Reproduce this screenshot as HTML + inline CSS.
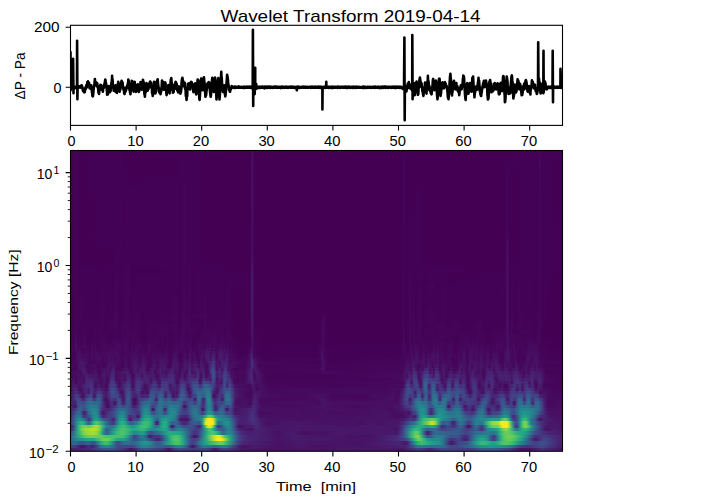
<!DOCTYPE html><html><head><meta charset="utf-8"><style>html,body{margin:0;padding:0;background:#fff;width:702px;height:501px;overflow:hidden}svg{display:block}#spec div{position:absolute;left:0;width:500px}text{font-family:"Liberation Sans",sans-serif;fill:#000}</style></head><body>
<div style="position:absolute;left:70px;top:150px;width:492px;height:301px;overflow:hidden"><div id="spec" style="position:absolute;left:-4px;top:-4px;width:500px;height:309px;filter:blur(0.5px)"><div style="top:302px;height:7px;background:linear-gradient(90deg,#481d6f 4px,#482374 15px,#472a7a 24px,#3a538b 38px,#3b518b 47px,#46307e 59px,#471365 65px,#481f70 68px,#3e4c8a 75px,#3b528b 81px,#46327e 98px,#471164 103px,#482878 106px,#414487 110px,#3d4d8a 115px,#453781 127px,#3f4788 138px,#443983 143px,#481a6c 148px,#481b6d 150px,#433d84 156px,#423f85 161px,#481668 176px,#471164 214px,#481467 266px,#481668 337px,#423f85 352px,#453581 358px,#482475 364px,#404588 375px,#423f85 391px,#453781 403px,#38598c 416px,#38588c 430px,#424186 442px,#471164 455px,#471164 464px,#472d7b 476px,#471365 495px)"></div><div style="top:299px;height:3px;background:linear-gradient(90deg,#443a83 4px,#443b84 9px,#481d6f 14px,#471063 16px,#472a7a 22px,#482173 27px,#472e7c 29px,#2c738e 35px,#25848e 38px,#24868e 42px,#2c738e 46px,#3e4c8a 51px,#404588 54px,#3e4989 60px,#414287 66px,#38588c 70px,#277f8e 76px,#25858e 80px,#2b748e 85px,#375b8d 91px,#375b8d 100px,#38598c 103px,#2c718e 107px,#25858e 111px,#25848e 115px,#2b758e 118px,#3e4a89 122px,#481668 126px,#481467 127px,#32648e 134px,#2a778e 138px,#2a768e 143px,#306a8e 149px,#27808e 157px,#2a768e 161px,#48186a 174px,#471063 177px,#481a6c 188px,#471063 213px,#481668 234px,#471164 259px,#481467 278px,#481467 300px,#482173 340px,#443983 344px,#2c728e 351px,#287d8e 355px,#2f6c8e 365px,#2c718e 374px,#33638d 379px,#404588 385px,#404688 390px,#33628d 403px,#21918c 414px,#1f998a 422px,#218f8d 439px,#297a8e 445px,#424186 454px,#46327e 460px,#453882 468px,#3f4889 476px,#46307e 485px,#481b6d 495px)"></div><div style="top:295px;height:4px;background:linear-gradient(90deg,#39568c 4px,#32658e 8px,#34618d 11px,#3c4f8a 15px,#3a548c 18px,#34608d 22px,#3d4d8a 27px,#39568c 29px,#22a785 35px,#3bbb75 38px,#3dbc74 41px,#25ac82 44px,#24868e 47px,#3f4889 51px,#414487 52px,#2f6b8e 57px,#2d718e 60px,#32648e 67px,#2d708e 71px,#20928c 77px,#1f968b 80px,#228d8d 83px,#365c8d 90px,#38598c 93px,#306a8e 96px,#25ab82 104px,#4ac16d 109px,#46c06f 113px,#2ab07f 116px,#26828e 120px,#3e4c8a 124px,#433e85 126px,#424086 128px,#32658e 132px,#1e9c89 138px,#2db27d 143px,#6ece58 154px,#65cb5e 157px,#2fb47c 161px,#3a538b 170px,#46327e 174px,#482374 179px,#471164 212px,#48186a 233px,#471365 259px,#481467 276px,#471164 292px,#482576 334px,#481467 340px,#482576 342px,#39558c 345px,#1f958b 349px,#2eb37c 352px,#3fbc73 355px,#31b57b 359px,#1f9e89 366px,#20928c 373px,#297a8e 377px,#482071 384px,#48186a 385px,#481f70 387px,#414487 392px,#3c4f8a 400px,#30698e 404px,#21a685 411px,#35b779 415px,#37b878 419px,#1f9f88 427px,#21a685 430px,#4ac16d 436px,#56c667 441px,#3dbc74 446px,#238a8d 454px,#39558c 463px,#414287 468px,#3f4889 473px,#3b518b 478px,#482576 492px,#482071 495px)"></div><div style="top:292px;height:3px;background:linear-gradient(90deg,#375b8d 4px,#23888e 11px,#22a785 22px,#23a983 28px,#6ccd5a 37px,#6ece58 42px,#3fbc73 47px,#21a685 51px,#1f9e89 58px,#228d8d 61px,#3b528b 67px,#3f4889 69px,#39568c 72px,#2c718e 76px,#2c718e 79px,#482374 91px,#482374 93px,#424186 96px,#20a386 103px,#3fbc73 106px,#56c667 109px,#52c569 112px,#35b779 115px,#228d8d 119px,#375a8c 123px,#424086 126px,#443b84 129px,#3c4f8a 132px,#2eb37c 141px,#eae51a 150px,#fde725 152px,#fde725 155px,#dde318 157px,#24aa83 164px,#355f8d 170px,#443b84 174px,#482878 179px,#481467 212px,#481a6c 232px,#481769 261px,#471365 276px,#481467 307px,#472c7a 331px,#414287 339px,#375b8d 342px,#20928c 346px,#3aba76 349px,#67cc5c 352px,#5cc863 355px,#1f958b 362px,#228c8d 366px,#238a8d 373px,#2b758e 377px,#443a83 383px,#472e7c 385px,#414287 392px,#472f7d 396px,#481b6d 399px,#482374 401px,#39558c 405px,#228d8d 410px,#21a585 414px,#22a884 417px,#1e9b8a 420px,#29798e 423px,#3f4889 426px,#433d84 427px,#443b84 428px,#3f4788 429px,#20a386 434px,#48c16e 437px,#67cc5c 441px,#60ca60 446px,#31b57b 452px,#26828e 459px,#482173 468px,#481769 470px,#414287 477px,#414287 481px,#482576 492px,#482173 495px)"></div><div style="top:289px;height:3px;background:linear-gradient(90deg,#38598c 4px,#2cb17e 14px,#5cc863 19px,#75d054 25px,#63cb5f 35px,#44bf70 41px,#48c16e 52px,#3fbc73 57px,#28ae80 60px,#218f8d 63px,#3b518b 67px,#404588 68px,#424086 69px,#3c4f8a 71px,#2d718e 74px,#297a8e 76px,#2c738e 78px,#365d8d 80px,#482475 83px,#481a6c 84px,#463480 88px,#46327e 93px,#3d4e8a 96px,#22a785 103px,#3dbc74 106px,#4cc26c 110px,#37b878 114px,#1fa188 117px,#443a83 125px,#481769 128px,#471063 129px,#482374 131px,#33638d 135px,#24aa83 140px,#9dd93b 146px,#e5e419 150px,#efe51c 153px,#cde11d 155px,#4cc26c 159px,#20a386 164px,#3a538b 171px,#463480 175px,#482374 181px,#481f70 193px,#471164 213px,#481b6d 228px,#481668 243px,#481668 261px,#481668 274px,#471164 286px,#471365 307px,#482878 331px,#414287 336px,#30698e 340px,#48c16e 347px,#7cd250 350px,#7cd250 352px,#5ac864 354px,#27ad81 356px,#32648e 360px,#39568c 361px,#3c508b 362px,#39558c 364px,#2a788e 369px,#277f8e 373px,#2d718e 378px,#3a538b 384px,#3b518b 392px,#482878 399px,#472c7a 401px,#3a548c 405px,#26818e 410px,#20938c 414px,#1f958b 418px,#23888e 421px,#31678e 424px,#443b84 427px,#443983 428px,#414487 429px,#27808e 432px,#2db27d 435px,#5ac864 438px,#73d056 442px,#5ec962 448px,#2ab07f 455px,#228c8d 460px,#433e85 467px,#482979 470px,#443b84 478px,#481f70 495px)"></div><div style="top:285px;height:4px;background:linear-gradient(90deg,#3e4a89 4px,#31688e 7px,#2eb37c 13px,#70cf57 17px,#a0da39 22px,#a5db36 28px,#81d34d 32px,#54c568 34px,#1f978b 37px,#2c728e 39px,#32658e 40px,#34618d 41px,#31668e 42px,#1fa088 47px,#37b878 51px,#50c46a 56px,#3fbc73 60px,#23888e 68px,#228c8d 71px,#1f9e89 75px,#1e9c89 77px,#218e8d 79px,#39558c 83px,#3d4d8a 84px,#3c4f8a 86px,#32658e 90px,#29798e 95px,#20a386 101px,#25ab82 104px,#21a685 113px,#20928c 117px,#433e85 126px,#472e7c 129px,#443b84 132px,#34608d 135px,#20a386 140px,#3fbc73 143px,#50c46a 146px,#40bd72 149px,#22a785 152px,#2c718e 156px,#30698e 157px,#306a8e 158px,#23888e 162px,#23888e 164px,#2d718e 167px,#433d84 172px,#482374 177px,#481d6f 184px,#482173 191px,#471063 212px,#481b6d 226px,#470e61 238px,#471365 250px,#471164 259px,#48186a 272px,#481668 292px,#48186a 326px,#48186a 331px,#46327e 335px,#34618d 339px,#34b679 346px,#5ec962 349px,#63cb5f 351px,#4ac16d 353px,#23a983 355px,#46337f 360px,#481f70 361px,#481b6d 362px,#355f8d 367px,#2f6c8e 370px,#365c8d 385px,#365c8d 392px,#424186 400px,#3c4f8a 404px,#2e6d8e 410px,#2c738e 417px,#27808e 422px,#2c738e 427px,#29798e 429px,#1f968b 432px,#44bf70 436px,#67cc5c 439px,#67cc5c 443px,#27ad81 452px,#21a585 458px,#228d8d 462px,#39558c 468px,#424086 472px,#482475 481px,#481b6d 495px)"></div><div style="top:282px;height:3px;background:linear-gradient(90deg,#472e7c 4px,#463480 6px,#414287 7px,#25ab82 12px,#65cb5e 15px,#9dd93b 19px,#bddf26 28px,#9dd93b 32px,#6ece58 34px,#2fb47c 36px,#2c738e 39px,#33628d 40px,#375a8c 41px,#31678e 43px,#22a884 50px,#42be71 54px,#4cc26c 58px,#22a785 67px,#25ac82 71px,#38b977 76px,#2db27d 79px,#238a8d 85px,#24878e 89px,#22a884 98px,#22a785 100px,#1f9a8a 102px,#2d708e 105px,#32658e 106px,#33628d 107px,#26818e 112px,#27808e 115px,#443b84 129px,#443983 132px,#404588 134px,#34608d 136px,#22a785 140px,#40bd72 142px,#50c46a 144px,#3bbb75 146px,#1fa287 148px,#2c728e 151px,#34608d 153px,#38588c 156px,#31678e 159px,#277e8e 162px,#287d8e 164px,#33638d 167px,#46327e 171px,#481d6f 174px,#471164 185px,#482374 190px,#481467 209px,#48186a 230px,#481467 241px,#481769 262px,#481769 325px,#471164 331px,#472c7a 335px,#38598c 339px,#1f9e89 345px,#2fb47c 348px,#3aba76 351px,#27ad81 354px,#23898e 357px,#33638d 360px,#365d8d 362px,#2e6f8e 367px,#2f6b8e 370px,#414287 376px,#3f4889 380px,#375a8c 393px,#3f4788 398px,#453882 402px,#414487 405px,#365d8d 409px,#375b8d 411px,#463480 415px,#46327e 416px,#443b84 417px,#287d8e 421px,#20938c 424px,#1fa287 431px,#4cc26c 435px,#86d549 438px,#8ed645 441px,#58c765 444px,#26828e 449px,#29798e 450px,#297a8e 451px,#1f968b 454px,#2cb17e 457px,#32b67a 459px,#23a983 462px,#33628d 469px,#481769 479px,#471365 482px,#481c6e 488px,#481467 495px)"></div><div style="top:279px;height:3px;background:linear-gradient(90deg,#482677 4px,#482475 6px,#453581 7px,#1f9a8a 11px,#38b977 13px,#69cd5b 16px,#73d056 19px,#63cb5f 23px,#a0da39 28px,#a5db36 31px,#7ad151 34px,#2cb17e 37px,#24878e 40px,#2a768e 43px,#2b748e 46px,#277f8e 48px,#2ab07f 53px,#3dbc74 56px,#37b878 59px,#1f998a 65px,#1f988b 68px,#40bd72 76px,#42be71 80px,#25ac82 84px,#25848e 88px,#2d718e 90px,#2e6f8e 91px,#2b758e 92px,#1f9e89 95px,#26ad81 97px,#28ae80 99px,#1fa088 101px,#218e8d 102px,#39558c 104px,#46307e 105px,#471365 106px,#482071 107px,#3b518b 109px,#31688e 111px,#30698e 113px,#3d4e8a 118px,#3c508b 126px,#443a83 130px,#481f70 133px,#482374 134px,#443a83 135px,#29798e 137px,#38b977 139px,#73d056 140px,#aadc32 141px,#d2e21b 142px,#e7e419 143px,#eae51a 144px,#d8e219 145px,#b5de2b 146px,#7cd250 147px,#3dbc74 148px,#3b528b 151px,#453781 152px,#463480 153px,#297b8e 159px,#23888e 161px,#24878e 163px,#2e6f8e 166px,#482475 171px,#470e61 173px,#481b6d 181px,#481c6e 186px,#482878 190px,#471365 202px,#481769 231px,#481467 290px,#481769 300px,#481668 315px,#481668 331px,#472e7c 336px,#34618d 341px,#1f948c 347px,#26ad81 352px,#27ad81 355px,#1e9d89 360px,#23a983 366px,#1fa088 369px,#228b8d 371px,#472a7a 376px,#482979 377px,#3e4989 381px,#3e4989 383px,#472f7d 387px,#453781 389px,#365c8d 393px,#355f8d 395px,#3e4c8a 398px,#481467 402px,#471164 403px,#365d8d 408px,#30698e 410px,#33628d 412px,#433d84 415px,#453882 416px,#414487 417px,#1e9d89 421px,#38b977 423px,#65cb5e 426px,#73d056 432px,#a5db36 434px,#ece51b 436px,#fde725 437px,#fde725 441px,#c0df25 443px,#54c568 445px,#3d4d8a 449px,#463480 450px,#443983 451px,#20938c 454px,#3fbc73 456px,#70cf57 458px,#7cd250 460px,#5cc863 462px,#26818e 467px,#38598c 471px,#481b6d 479px,#481467 482px,#48186a 491px,#471365 495px)"></div><div style="top:275px;height:4px;background:linear-gradient(90deg,#46327e 4px,#424186 6px,#355f8d 8px,#1f9f88 12px,#29af7f 14px,#2fb47c 16px,#24aa83 18px,#218f8d 20px,#31688e 22px,#34608d 23px,#2f6b8e 24px,#27ad81 27px,#48c16e 29px,#50c46a 31px,#31b57b 34px,#2c728e 40px,#443b84 46px,#453581 47px,#433d84 48px,#31668e 50px,#218f8d 52px,#22a785 54px,#29af7f 56px,#25ab82 58px,#1f9a8a 60px,#32648e 64px,#355f8d 66px,#277f8e 71px,#2ab07f 76px,#3dbc74 79px,#35b779 83px,#24aa83 85px,#228c8d 87px,#2c738e 88px,#472d7b 90px,#471365 91px,#46307e 92px,#297a8e 94px,#20928c 95px,#1fa188 96px,#27ad81 98px,#25ab82 100px,#1f998a 102px,#31668e 105px,#365d8d 106px,#31668e 110px,#375a8c 112px,#472c7a 116px,#482475 119px,#463480 122px,#39558c 126px,#375a8c 129px,#3a538b 133px,#375b8d 134px,#2f6c8e 135px,#24868e 136px,#addc30 139px,#f8e621 140px,#fde725 147px,#c8e020 148px,#218e8d 151px,#2a778e 152px,#2e6f8e 153px,#2b758e 155px,#218f8d 159px,#21908d 162px,#29798e 165px,#453882 170px,#481f70 173px,#482071 181px,#472f7d 188px,#471063 200px,#471063 205px,#481668 222px,#471164 270px,#471365 290px,#470e61 295px,#481769 306px,#471063 313px,#481668 322px,#481769 332px,#482878 337px,#355e8d 345px,#2e6d8e 348px,#2db27d 355px,#7cd250 362px,#c0df25 365px,#c5e021 367px,#9dd93b 369px,#52c569 371px,#2c718e 375px,#33628d 376px,#375a8c 377px,#33638d 381px,#375b8d 383px,#482071 387px,#481f70 388px,#424086 390px,#34618d 392px,#2d718e 394px,#2d708e 396px,#38598c 399px,#433d84 402px,#424186 404px,#2a778e 409px,#277f8e 412px,#2a778e 415px,#277f8e 417px,#58c765 423px,#8ed645 426px,#a2da37 430px,#a5db36 432px,#dae319 434px,#fde725 435px,#fde725 441px,#e7e419 442px,#73d056 444px,#25848e 447px,#375b8d 449px,#3c508b 450px,#3b518b 451px,#33638d 452px,#27ad81 455px,#63cb5f 457px,#7cd250 459px,#73d056 460px,#5ec962 461px,#23a983 463px,#287d8e 465px,#2d718e 466px,#33628d 469px,#46327e 474px,#48186a 483px,#481467 495px)"></div><div style="top:272px;height:3px;background:linear-gradient(90deg,#472d7b 4px,#3d4e8a 7px,#26818e 11px,#218e8d 13px,#228c8d 15px,#31688e 19px,#433d84 22px,#46337f 23px,#433d84 24px,#24868e 27px,#1f948c 28px,#1fa088 30px,#1f998a 32px,#2b748e 35px,#365c8d 37px,#3d4e8a 40px,#424086 44px,#482475 47px,#482677 48px,#443983 49px,#277e8e 52px,#1f978b 54px,#1f9f88 56px,#1f978b 58px,#228d8d 59px,#31668e 61px,#472c7a 63px,#48186a 64px,#481d6f 65px,#443b84 67px,#404588 69px,#424186 71px,#404688 72px,#3a548c 73px,#20928c 76px,#22a884 78px,#29af7f 81px,#22a884 84px,#228c8d 87px,#34618d 90px,#365c8d 91px,#34618d 92px,#228c8d 95px,#1e9c89 97px,#1fa088 100px,#228d8d 104px,#2b748e 109px,#365d8d 111px,#481f70 114px,#471063 115px,#48186a 118px,#470e61 120px,#471063 121px,#33638d 127px,#2e6f8e 130px,#2a768e 133px,#23888e 135px,#27ad81 137px,#c2df23 140px,#f1e51d 141px,#fde725 143px,#fde725 146px,#dfe318 147px,#23a983 151px,#21908d 153px,#23898e 156px,#24868e 161px,#2b758e 164px,#463480 170px,#481f70 174px,#481f70 180px,#46337f 187px,#481467 196px,#471164 206px,#471063 223px,#471063 243px,#471164 266px,#471063 275px,#471164 292px,#481467 321px,#471365 333px,#481b6d 338px,#453781 344px,#472e7c 348px,#46327e 349px,#414287 350px,#1f968b 354px,#32b67a 357px,#4ac16d 361px,#65cb5e 367px,#4ec36b 370px,#25ab82 373px,#228b8d 376px,#26818e 379px,#2a768e 383px,#365d8d 387px,#34608d 389px,#297b8e 393px,#297a8e 396px,#38598c 402px,#365d8d 405px,#26818e 411px,#228d8d 419px,#1fa287 427px,#1e9d89 432px,#23a983 434px,#5ec962 437px,#73d056 439px,#56c667 441px,#3bbb75 442px,#218f8d 444px,#38588c 446px,#424186 447px,#453781 448px,#423f85 450px,#3e4c8a 451px,#2c738e 453px,#1e9c89 455px,#32b67a 457px,#3dbc74 459px,#29af7f 461px,#2b748e 465px,#38598c 469px,#481a6c 473px,#471164 474px,#482374 478px,#471365 489px,#471365 495px)"></div><div style="top:269px;height:3px;background:linear-gradient(90deg,#482576 4px,#3b528b 8px,#2c728e 11px,#29798e 13px,#2b748e 14px,#38598c 16px,#453581 18px,#46337f 19px,#375b8d 24px,#25858e 27px,#20928c 29px,#228c8d 31px,#2c718e 33px,#472e7c 36px,#482374 37px,#472a7a 39px,#424086 43px,#424086 47px,#3c4f8a 49px,#25858e 53px,#21918c 55px,#21908d 57px,#26828e 59px,#34608d 61px,#463480 63px,#472c7a 64px,#424086 68px,#46307e 70px,#470e61 72px,#481d6f 73px,#297a8e 76px,#228d8d 77px,#1f9e89 79px,#1f9f88 82px,#218e8d 85px,#2b758e 88px,#2d708e 91px,#25838e 96px,#23888e 101px,#218f8d 105px,#23888e 108px,#2a778e 110px,#46327e 114px,#482979 116px,#482677 121px,#443b84 123px,#2e6e8e 127px,#2a788e 130px,#2a768e 135px,#26828e 137px,#3fbc73 141px,#63cb5f 143px,#5ec962 145px,#37b878 147px,#20928c 150px,#25848e 152px,#2b758e 159px,#355e8d 164px,#472d7b 169px,#481c6e 174px,#481d6f 180px,#46337f 187px,#481f70 191px,#471063 194px,#470d60 221px,#471063 233px,#470d60 242px,#470e61 255px,#471063 264px,#471063 282px,#471365 320px,#470d60 328px,#470d60 337px,#481a6c 342px,#482979 346px,#481467 349px,#482475 350px,#2a788e 353px,#1f968b 355px,#1fa187 357px,#1fa088 359px,#2a768e 364px,#2b748e 366px,#24878e 369px,#1e9b8a 372px,#1f948c 376px,#2a778e 387px,#26828e 393px,#2a768e 396px,#39558c 401px,#3c508b 405px,#355e8d 408px,#297a8e 412px,#27808e 415px,#2c728e 419px,#365c8d 423px,#30698e 432px,#287d8e 435px,#1f958b 438px,#1f978b 440px,#238a8d 442px,#306a8e 444px,#443b84 446px,#472a7a 447px,#482878 448px,#424186 450px,#20938c 455px,#1fa287 457px,#21a585 460px,#228d8d 464px,#30698e 469px,#46337f 473px,#472c7a 475px,#482374 479px,#471063 486px,#471164 495px)"></div><div style="top:265px;height:4px;background:linear-gradient(90deg,#481f70 4px,#3c4f8a 9px,#31688e 12px,#31678e 14px,#365c8d 15px,#481b6d 18px,#482374 19px,#365c8d 22px,#25838e 26px,#228d8d 29px,#25838e 31px,#2a788e 32px,#3d4d8a 34px,#46327e 35px,#481c6e 36px,#481467 37px,#46327e 42px,#3e4c8a 48px,#29798e 53px,#26828e 56px,#2a778e 59px,#3d4e8a 63px,#404588 66px,#443a83 70px,#46327e 72px,#453882 73px,#3e4989 74px,#2b748e 76px,#228c8d 78px,#20928c 81px,#24878e 83px,#39568c 86px,#3d4d8a 87px,#3c4f8a 88px,#2c718e 92px,#2a778e 94px,#2e6e8e 96px,#3c508b 98px,#404688 99px,#3c4f8a 100px,#2b748e 102px,#24878e 104px,#228d8d 107px,#27808e 110px,#3b518b 114px,#423f85 117px,#443b84 120px,#3d4e8a 123px,#2c738e 127px,#29798e 130px,#31688e 133px,#404588 136px,#414287 137px,#3c4f8a 138px,#24878e 141px,#1f988b 143px,#20938c 145px,#287c8e 147px,#355f8d 149px,#38598c 150px,#34608d 152px,#2e6e8e 155px,#30698e 157px,#424086 161px,#404688 164px,#443983 166px,#481668 169px,#481f70 181px,#46307e 187px,#481b6d 191px,#460b5e 194px,#470e61 210px,#471063 232px,#470d60 242px,#471164 256px,#470d60 270px,#470e61 282px,#470e61 300px,#481467 317px,#470d60 328px,#471164 337px,#481b6d 340px,#470e61 343px,#443983 347px,#423f85 349px,#3f4889 350px,#277e8e 353px,#21918c 355px,#1f948c 357px,#228b8d 359px,#2d718e 361px,#472e7c 364px,#482475 365px,#472c7a 366px,#2b758e 370px,#23898e 372px,#21918c 375px,#25848e 379px,#2e6f8e 383px,#2b748e 387px,#277e8e 391px,#2a768e 394px,#404688 399px,#46327e 406px,#443a83 408px,#306a8e 412px,#2a768e 415px,#2d718e 417px,#365c8d 419px,#482979 422px,#482475 423px,#414487 427px,#404588 432px,#34608d 435px,#297a8e 438px,#277e8e 440px,#2e6f8e 443px,#3b518b 446px,#3e4c8a 448px,#375b8d 450px,#25858e 454px,#1f948c 457px,#20928c 462px,#2a778e 469px,#472a7a 478px,#471365 482px,#470d60 493px,#471063 495px)"></div><div style="top:262px;height:3px;background:linear-gradient(90deg,#481b6d 4px,#463480 9px,#355f8d 13px,#355e8d 15px,#3e4989 18px,#38588c 20px,#2b758e 23px,#24868e 27px,#25848e 30px,#2b758e 32px,#424086 35px,#46307e 36px,#482173 40px,#482374 43px,#3f4889 49px,#306a8e 53px,#2e6e8e 56px,#34608d 61px,#453581 68px,#453781 71px,#404588 73px,#287c8e 77px,#24878e 79px,#24878e 81px,#297a8e 83px,#31688e 84px,#482475 86px,#470e61 87px,#375a8c 90px,#2d718e 92px,#2a778e 94px,#2b748e 95px,#306a8e 96px,#39568c 97px,#453581 98px,#481b6d 99px,#472e7c 100px,#3a538b 101px,#2e6d8e 102px,#297b8e 103px,#24868e 105px,#25838e 109px,#2c728e 112px,#443a83 117px,#46307e 119px,#433e85 121px,#2e6d8e 126px,#2b748e 129px,#2f6b8e 132px,#3c508b 134px,#482071 136px,#470e61 137px,#482475 138px,#34618d 140px,#2b758e 141px,#26828e 142px,#24868e 143px,#25858e 144px,#277f8e 145px,#2d708e 146px,#482173 149px,#481d6f 150px,#3a538b 153px,#32648e 155px,#34618d 157px,#39568c 158px,#470e61 161px,#481b6d 162px,#46337f 163px,#424086 164px,#424186 165px,#471164 169px,#482173 184px,#472a7a 188px,#471063 194px,#470e61 227px,#470d60 242px,#471164 262px,#470d60 300px,#471063 304px,#471164 318px,#460b5e 325px,#481b6d 337px,#482979 341px,#482979 343px,#31678e 350px,#228c8d 354px,#21908d 357px,#24868e 359px,#2e6f8e 361px,#46337f 364px,#472a7a 365px,#46327e 366px,#2a768e 370px,#25858e 372px,#23898e 376px,#26818e 378px,#2f6b8e 380px,#3e4a89 382px,#414287 383px,#3b528b 385px,#2e6d8e 388px,#2b758e 391px,#2f6b8e 394px,#424086 397px,#482071 399px,#481f70 400px,#472f7d 403px,#482475 405px,#471063 407px,#481a6c 408px,#375a8c 412px,#2f6c8e 415px,#30698e 417px,#3a548c 419px,#481668 422px,#481467 423px,#463480 426px,#453581 428px,#481f70 432px,#482878 433px,#31668e 437px,#2e6f8e 439px,#31678e 442px,#3c4f8a 446px,#3d4e8a 448px,#31678e 451px,#26818e 454px,#238a8d 458px,#25858e 463px,#2d718e 471px,#375b8d 474px,#481f70 479px,#470e61 482px,#470e61 495px)"></div><div style="top:259px;height:3px;background:linear-gradient(90deg,#48186a 4px,#482071 7px,#471063 9px,#481d6f 10px,#3e4a89 12px,#39568c 13px,#375b8d 15px,#39558c 18px,#2a788e 24px,#29798e 30px,#2d718e 32px,#46327e 37px,#470e61 41px,#470d60 42px,#472a7a 46px,#46307e 49px,#38598c 53px,#39558c 55px,#3f4788 57px,#3d4d8a 59px,#39568c 61px,#3b518b 63px,#481b6d 68px,#482071 70px,#3d4e8a 74px,#2d718e 77px,#287c8e 80px,#29798e 82px,#31678e 84px,#424086 86px,#443983 87px,#3e4c8a 89px,#2c718e 93px,#2b758e 95px,#31688e 97px,#3a548c 99px,#38598c 100px,#2a768e 103px,#297b8e 106px,#2d708e 112px,#34618d 114px,#414287 116px,#481668 118px,#471164 119px,#3a538b 123px,#32648e 126px,#32658e 132px,#3a538b 134px,#453581 136px,#472e7c 137px,#453781 138px,#2c738e 141px,#277f8e 142px,#25838e 143px,#26828e 144px,#29798e 145px,#30698e 146px,#463480 148px,#481f70 149px,#481f70 150px,#3e4a89 153px,#375a8c 156px,#38588c 158px,#443b84 161px,#424086 162px,#3b518b 164px,#3d4e8a 165px,#482374 168px,#481467 170px,#471164 184px,#482677 188px,#470e61 195px,#460b5e 223px,#470d60 241px,#471164 255px,#460a5d 290px,#471164 317px,#470d60 324px,#481668 334px,#443983 341px,#443b84 344px,#34608d 348px,#27808e 352px,#23888e 355px,#277f8e 359px,#3b528b 364px,#3b518b 365px,#34618d 367px,#297b8e 370px,#277e8e 377px,#2d718e 379px,#355f8d 380px,#481c6e 382px,#471063 383px,#433e85 385px,#375b8d 388px,#31678e 391px,#375b8d 394px,#453581 397px,#471365 399px,#481668 400px,#472f7d 402px,#46337f 404px,#481c6e 407px,#472c7a 409px,#33628d 416px,#355f8d 418px,#3e4989 420px,#472e7c 422px,#482979 429px,#471063 432px,#481a6c 433px,#3a548c 436px,#34608d 438px,#3f4889 443px,#463480 448px,#443983 449px,#31688e 452px,#2a778e 454px,#2a778e 460px,#2a768e 463px,#355f8d 466px,#365d8d 467px,#2e6d8e 470px,#2f6b8e 472px,#3c508b 475px,#481b6d 479px,#460a5d 482px,#470d60 495px)"></div><div style="top:255px;height:4px;background:linear-gradient(90deg,#481668 4px,#482374 7px,#481f70 9px,#482979 10px,#3e4c8a 12px,#3a538b 13px,#3d4e8a 15px,#404588 17px,#3c4f8a 19px,#30698e 22px,#2e6f8e 25px,#32658e 29px,#306a8e 32px,#355e8d 34px,#482475 38px,#471365 40px,#470e61 42px,#482979 45px,#472c7a 46px,#471063 49px,#3e4a89 52px,#3b518b 53px,#3d4e8a 54px,#472f7d 56px,#481b6d 57px,#481c6e 58px,#3f4788 60px,#3a538b 61px,#38588c 62px,#3a548c 63px,#453882 65px,#481467 67px,#460a5d 68px,#471365 70px,#3b518b 75px,#31688e 79px,#2e6d8e 83px,#404688 89px,#414287 90px,#3e4a89 91px,#306a8e 93px,#2c738e 95px,#32648e 100px,#2e6f8e 104px,#34608d 109px,#31678e 113px,#355f8d 115px,#46327e 118px,#472f7d 119px,#3a548c 123px,#39568c 126px,#433e85 129px,#3f4788 130px,#33628d 132px,#32648e 133px,#365d8d 134px,#472d7b 137px,#472f7d 138px,#414287 139px,#2a768e 141px,#26828e 142px,#24868e 143px,#25838e 144px,#2a788e 145px,#443983 148px,#472e7c 149px,#472e7c 150px,#404588 153px,#423f85 156px,#3a538b 158px,#32648e 160px,#306a8e 163px,#365c8d 165px,#482475 168px,#481668 169px,#470e61 171px,#471365 179px,#46085c 184px,#482475 188px,#481b6d 191px,#460b5e 194px,#470e61 235px,#460b5e 253px,#481467 258px,#470e61 267px,#470e61 304px,#470e61 332px,#482979 337px,#424186 340px,#414287 341px,#482979 344px,#472f7d 345px,#31688e 349px,#287c8e 352px,#287d8e 354px,#2c728e 357px,#2d708e 360px,#3a538b 363px,#3b528b 364px,#32658e 366px,#29798e 368px,#277e8e 370px,#2e6f8e 372px,#33628d 373px,#375b8d 374px,#2a768e 377px,#2a788e 378px,#2b748e 379px,#30698e 380px,#423f85 382px,#453882 383px,#414287 385px,#453781 387px,#443a83 388px,#39568c 390px,#365c8d 391px,#38598c 392px,#424086 394px,#443a83 396px,#472f7d 399px,#424186 403px,#46337f 408px,#46337f 410px,#482878 412px,#472c7a 413px,#39558c 416px,#355e8d 418px,#3a548c 420px,#481668 426px,#481668 427px,#472a7a 430px,#482979 432px,#433e85 434px,#39568c 436px,#38598c 438px,#3c4f8a 439px,#472a7a 441px,#482374 442px,#453882 444px,#433d84 445px,#453882 446px,#471365 448px,#471365 449px,#3c508b 451px,#33638d 452px,#2e6d8e 453px,#2d708e 455px,#31688e 456px,#404688 458px,#3f4788 459px,#30698e 461px,#2e6f8e 462px,#2e6d8e 463px,#33638d 464px,#3e4c8a 465px,#482979 466px,#482475 467px,#375a8c 469px,#32648e 470px,#32658e 472px,#3e4a89 475px,#48186a 479px,#46085c 482px,#470d60 495px)"></div><div style="top:252px;height:3px;background:linear-gradient(90deg,#471164 4px,#3e4a89 12px,#414287 14px,#482071 17px,#482677 18px,#3b518b 21px,#34608d 24px,#39568c 26px,#46327e 28px,#453581 29px,#38598c 31px,#355f8d 33px,#3b518b 35px,#470d60 39px,#460a5d 40px,#482071 43px,#453882 45px,#433d84 46px,#482979 49px,#3e4c8a 52px,#3e4c8a 53px,#463480 55px,#481769 57px,#481769 58px,#404588 60px,#3a548c 61px,#375a8c 62px,#39568c 63px,#3d4d8a 64px,#482173 66px,#471063 67px,#460b5e 70px,#453581 73px,#423f85 75px,#3d4d8a 81px,#34618d 84px,#34618d 86px,#3b518b 88px,#443a83 89px,#481668 90px,#481c6e 91px,#3f4889 92px,#34618d 93px,#306a8e 94px,#2f6b8e 96px,#3b528b 99px,#3c508b 100px,#34608d 103px,#3a548c 105px,#453882 107px,#443a83 109px,#3c508b 112px,#34618d 114px,#33628d 116px,#3c4f8a 120px,#414287 124px,#3e4989 126px,#414287 127px,#470e61 129px,#482979 130px,#3b518b 131px,#31678e 132px,#2e6e8e 133px,#306a8e 134px,#365d8d 135px,#482374 137px,#481a6c 138px,#433e85 139px,#32658e 140px,#287d8e 141px,#24868e 142px,#24878e 143px,#26828e 144px,#2d718e 145px,#463480 147px,#482374 148px,#482173 149px,#424086 153px,#433d84 154px,#472d7b 155px,#471365 156px,#481d6f 157px,#33628d 159px,#2d708e 160px,#2b748e 162px,#306a8e 164px,#433e85 167px,#48186a 169px,#470e61 170px,#471063 177px,#460b5e 185px,#482475 189px,#460a5d 194px,#46085c 218px,#460b5e 250px,#481467 257px,#460a5d 264px,#46085c 300px,#471063 325px,#460a5d 331px,#481a6c 335px,#3f4889 340px,#3e4a89 341px,#433e85 342px,#471063 344px,#482071 345px,#453882 346px,#3f4788 347px,#355e8d 350px,#2d718e 352px,#2c718e 353px,#2f6c8e 354px,#424186 356px,#424086 357px,#32658e 359px,#31678e 360px,#365c8d 361px,#482878 363px,#482979 364px,#33628d 366px,#2c738e 367px,#287c8e 368px,#297b8e 370px,#2c718e 371px,#365d8d 372px,#453581 373px,#481668 374px,#453781 375px,#375b8d 376px,#2e6d8e 377px,#2c738e 378px,#2d708e 380px,#365c8d 383px,#3c508b 385px,#443b84 386px,#481b6d 387px,#48186a 388px,#433e85 389px,#3a548c 390px,#375b8d 391px,#3a538b 392px,#443a83 393px,#481668 394px,#481769 395px,#46327e 396px,#424086 397px,#414487 400px,#433d84 406px,#433d84 409px,#463480 410px,#471063 412px,#471164 413px,#453882 415px,#3b518b 418px,#3b518b 421px,#463480 424px,#481668 426px,#481668 427px,#46307e 430px,#404688 434px,#3b528b 436px,#3d4e8a 438px,#46307e 440px,#481a6c 441px,#471164 442px,#453882 444px,#424186 445px,#414287 446px,#472f7d 448px,#472f7d 449px,#355f8d 452px,#31678e 454px,#32658e 455px,#365c8d 456px,#404588 457px,#481f70 458px,#482071 459px,#3e4989 460px,#34608d 461px,#31688e 462px,#31678e 463px,#34608d 464px,#46307e 466px,#472d7b 467px,#3a538b 469px,#375a8c 470px,#39558c 472px,#481769 479px,#460a5d 483px,#460a5d 495px)"></div><div style="top:248px;height:4px;background:linear-gradient(90deg,#470d60 4px,#443a83 10px,#443983 12px,#460a5d 17px,#471365 18px,#46307e 20px,#3f4788 25px,#424086 26px,#471365 28px,#48186a 29px,#404588 31px,#3c4f8a 33px,#414487 35px,#481f70 38px,#481668 40px,#472d7b 43px,#3e4a89 46px,#404588 52px,#472d7b 54px,#481c6e 55px,#471365 56px,#481c6e 58px,#3c4f8a 61px,#3a548c 62px,#3e4a89 64px,#482173 67px,#481d6f 70px,#46337f 73px,#472f7d 74px,#481a6c 76px,#482878 79px,#481c6e 81px,#482878 82px,#3c4f8a 84px,#375b8d 86px,#3a548c 88px,#433d84 90px,#433d84 91px,#375a8c 93px,#34618d 95px,#39558c 97px,#482071 99px,#481d6f 100px,#3f4788 102px,#3e4c8a 103px,#3f4788 104px,#453882 105px,#470e61 107px,#482071 109px,#481a6c 111px,#482677 112px,#3b528b 114px,#355e8d 116px,#3a538b 119px,#46307e 122px,#482071 123px,#48186a 124px,#443983 126px,#414287 127px,#443b84 129px,#3f4788 130px,#306a8e 132px,#2e6f8e 134px,#38588c 137px,#38588c 138px,#277f8e 141px,#26828e 143px,#2a788e 144px,#33628d 145px,#481668 147px,#460a5d 148px,#443983 154px,#472a7a 156px,#46307e 157px,#34608d 159px,#2f6c8e 160px,#2e6f8e 162px,#32648e 164px,#482071 169px,#481467 172px,#460a5d 180px,#46085c 185px,#481f70 189px,#470d60 196px,#46085c 237px,#471063 257px,#46085c 265px,#46075a 300px,#470d60 309px,#460b5e 312px,#470e61 327px,#460a5d 333px,#482576 337px,#3d4e8a 341px,#3e4a89 342px,#453882 344px,#424086 346px,#433e85 347px,#482475 349px,#472f7d 350px,#365c8d 352px,#34618d 353px,#375a8c 354px,#414287 355px,#481f70 356px,#481d6f 357px,#404588 358px,#365c8d 359px,#34618d 360px,#39568c 361px,#482475 363px,#482576 364px,#355e8d 366px,#2e6e8e 367px,#2b748e 368px,#2e6f8e 370px,#33638d 371px,#453781 373px,#482979 374px,#453882 375px,#3d4e8a 376px,#365c8d 377px,#32648e 380px,#355e8d 384px,#424186 387px,#424186 388px,#38598c 390px,#365c8d 391px,#39568c 392px,#453781 394px,#453581 395px,#3f4889 397px,#3f4788 399px,#482071 404px,#472e7c 406px,#433d84 408px,#453781 410px,#481f70 412px,#482374 414px,#472a7a 417px,#404588 420px,#404688 422px,#482475 426px,#482576 430px,#423f85 436px,#472f7d 439px,#481f70 441px,#481f70 442px,#424086 445px,#414287 447px,#433e85 449px,#3a538b 454px,#3e4a89 456px,#453581 458px,#443983 459px,#39568c 461px,#365c8d 463px,#3d4e8a 465px,#423f85 467px,#404588 470px,#443a83 472px,#482071 474px,#48186a 478px,#460a5d 483px,#46085c 495px)"></div><div style="top:245px;height:3px;background:linear-gradient(90deg,#460a5d 4px,#472f7d 10px,#482475 12px,#471365 14px,#48186a 18px,#482878 20px,#482374 21px,#481769 22px,#48186a 23px,#453882 25px,#453781 26px,#482071 28px,#482071 29px,#443983 32px,#453882 34px,#481769 39px,#481a6c 41px,#3f4788 45px,#3c4f8a 47px,#424186 51px,#471164 55px,#460a5d 56px,#481f70 58px,#3e4989 61px,#3e4c8a 63px,#482576 67px,#472c7a 70px,#453781 72px,#453581 73px,#472d7b 74px,#460b5e 76px,#481a6c 79px,#460a5d 81px,#471063 82px,#433e85 84px,#3c508b 86px,#3d4d8a 89px,#404688 91px,#3b518b 96px,#3e4c8a 97px,#482576 99px,#482576 100px,#433d84 102px,#46327e 104px,#471365 107px,#481f70 109px,#471063 111px,#48186a 112px,#3f4788 114px,#39558c 116px,#3b528b 118px,#433e85 120px,#481467 123px,#470d60 124px,#481c6e 125px,#3f4788 127px,#31678e 132px,#31668e 137px,#287c8e 142px,#29798e 143px,#2d718e 144px,#365c8d 145px,#433d84 146px,#482374 147px,#470e61 151px,#463480 154px,#414287 157px,#34608d 160px,#34618d 163px,#404588 166px,#481f70 169px,#471164 173px,#460a5d 180px,#460a5d 185px,#48186a 189px,#460a5d 202px,#460a5d 239px,#460b5e 257px,#460a5d 268px,#460b5e 289px,#460a5d 304px,#460a5d 320px,#470d60 328px,#46085c 333px,#482071 337px,#3e4a89 341px,#3d4d8a 343px,#433d84 347px,#481668 349px,#482071 350px,#433d84 351px,#3d4d8a 352px,#3c508b 353px,#453581 356px,#443a83 357px,#365d8d 359px,#355f8d 360px,#39558c 361px,#453781 363px,#453882 364px,#31678e 367px,#306a8e 368px,#32658e 369px,#404688 371px,#453581 373px,#443a83 375px,#404588 377px,#414287 379px,#38588c 382px,#39568c 384px,#3f4788 387px,#38588c 391px,#404688 395px,#404688 398px,#46085c 404px,#471063 405px,#46307e 407px,#443b84 409px,#481f70 413px,#481467 416px,#470d60 417px,#453581 420px,#443983 422px,#481a6c 428px,#471365 430px,#482979 434px,#482677 437px,#481769 440px,#481b6d 442px,#433e85 446px,#443983 449px,#472e7c 451px,#433d84 454px,#472d7b 457px,#453882 459px,#3e4a89 461px,#3d4d8a 463px,#482878 470px,#482576 472px,#470d60 474px,#460a5d 475px,#481467 477px,#46085c 485px,#46075a 495px)"></div><div style="top:242px;height:3px;background:linear-gradient(90deg,#46075a 4px,#482475 9px,#48186a 12px,#46085c 14px,#482979 20px,#482576 21px,#48186a 22px,#481769 23px,#463480 25px,#463480 26px,#48186a 29px,#482071 31px,#472a7a 33px,#470d60 40px,#470e61 41px,#404588 45px,#3e4989 48px,#463480 51px,#481c6e 53px,#481668 56px,#46327e 59px,#414487 61px,#414487 63px,#472d7b 65px,#481d6f 66px,#481769 67px,#443a83 71px,#433d84 73px,#481c6e 76px,#470e61 80px,#481668 82px,#433e85 85px,#3f4788 88px,#463480 93px,#404688 96px,#453882 102px,#48186a 104px,#482374 109px,#481b6d 111px,#481f70 112px,#3f4889 115px,#3d4d8a 117px,#424186 119px,#481b6d 121px,#470d60 122px,#48186a 124px,#482677 125px,#3d4d8a 127px,#365d8d 130px,#355e8d 132px,#3a548c 134px,#375b8d 136px,#2d708e 140px,#2e6f8e 143px,#375a8c 145px,#453882 147px,#470e61 151px,#453581 155px,#3b518b 159px,#3e4a89 161px,#3a538b 163px,#3e4989 165px,#481b6d 169px,#471063 174px,#460a5d 185px,#48186a 188px,#46085c 191px,#471063 194px,#46085c 205px,#460a5d 257px,#460a5d 288px,#460a5d 305px,#46085c 321px,#470d60 328px,#460b5e 334px,#482173 338px,#404688 341px,#3e4a89 343px,#46327e 349px,#404688 352px,#472d7b 355px,#463480 356px,#34618d 359px,#34618d 360px,#3a538b 361px,#482475 363px,#482979 364px,#38588c 366px,#33628d 367px,#33638d 368px,#38588c 369px,#481b6d 371px,#481f70 372px,#472e7c 373px,#453882 375px,#46327e 377px,#481a6c 379px,#482878 380px,#423f85 381px,#3e4c8a 382px,#3c508b 383px,#414287 385px,#453781 386px,#463480 387px,#3c508b 390px,#3e4989 393px,#424186 396px,#423f85 398px,#48186a 401px,#470e61 403px,#481467 405px,#46327e 407px,#443a83 409px,#481668 413px,#481467 416px,#470e61 417px,#472e7c 420px,#482475 423px,#482979 426px,#460a5d 429px,#481467 431px,#481c6e 436px,#460b5e 440px,#471164 442px,#463480 446px,#453882 448px,#46337f 449px,#471063 451px,#481668 452px,#472a7a 453px,#46307e 454px,#482878 455px,#481467 456px,#471164 457px,#46337f 459px,#424086 461px,#46337f 465px,#472e7c 467px,#470e61 470px,#481c6e 472px,#460a5d 480px,#46085c 487px,#450559 495px)"></div><div style="top:238px;height:4px;background:linear-gradient(90deg,#46075a 4px,#481b6d 8px,#471063 14px,#482374 19px,#472a7a 21px,#482979 23px,#46337f 25px,#482979 27px,#470d60 29px,#46085c 30px,#481d6f 32px,#481769 34px,#470e61 35px,#481668 38px,#46085c 40px,#46085c 41px,#482576 43px,#433e85 45px,#423f85 48px,#46307e 50px,#460b5e 53px,#472d7b 59px,#433d84 62px,#46337f 64px,#471063 66px,#46075a 67px,#46327e 70px,#443b84 72px,#472f7d 75px,#460b5e 79px,#443a83 88px,#46307e 91px,#481769 93px,#481769 94px,#472d7b 95px,#443a83 96px,#443a83 101px,#453581 102px,#471164 104px,#482878 107px,#482475 109px,#481668 111px,#481769 112px,#433d84 115px,#424086 117px,#453781 119px,#471164 122px,#46337f 125px,#3e4a89 127px,#39558c 130px,#3d4e8a 132px,#472c7a 134px,#46337f 135px,#3a538b 137px,#355e8d 139px,#355f8d 142px,#433d84 148px,#482173 150px,#481b6d 151px,#482475 155px,#472c7a 156px,#3e4989 158px,#3e4a89 159px,#433d84 160px,#481d6f 161px,#472a7a 162px,#414487 163px,#404688 164px,#482576 167px,#471164 169px,#46085c 184px,#481b6d 187px,#460a5d 191px,#471164 194px,#46075a 201px,#450559 264px,#46085c 322px,#460b5e 337px,#471365 338px,#433d84 341px,#424186 343px,#482878 345px,#482475 346px,#433d84 348px,#414487 351px,#433d84 352px,#48186a 354px,#470e61 355px,#482576 356px,#38588c 358px,#34618d 359px,#34618d 360px,#39568c 361px,#481668 363px,#482374 364px,#424186 365px,#3a548c 366px,#365c8d 367px,#375b8d 368px,#3b528b 369px,#481c6e 371px,#46327e 373px,#472f7d 375px,#481a6c 378px,#460b5e 379px,#48186a 380px,#46327e 381px,#424186 382px,#404688 383px,#414287 384px,#463480 385px,#48186a 386px,#471365 387px,#424086 389px,#3f4788 391px,#443a83 393px,#472e7c 394px,#472a7a 395px,#453882 397px,#472e7c 399px,#470d60 401px,#46075a 402px,#481c6e 405px,#46337f 407px,#453781 409px,#482374 411px,#46075a 413px,#481769 416px,#481c6e 418px,#472a7a 420px,#482878 421px,#460a5d 423px,#472a7a 425px,#472d7b 426px,#481467 429px,#481769 432px,#46085c 434px,#481769 436px,#46075a 439px,#46075a 441px,#482173 444px,#482374 446px,#46327e 448px,#46337f 449px,#481f70 451px,#482173 452px,#472d7b 453px,#46307e 454px,#48186a 456px,#481769 457px,#46307e 459px,#453581 461px,#472e7c 462px,#481c6e 463px,#481769 464px,#472a7a 466px,#482677 467px,#470d60 469px,#450559 470px,#482071 473px,#481467 476px,#450559 478px,#450559 495px)"></div><div style="top:235px;height:3px;background:linear-gradient(90deg,#46085c 4px,#481668 8px,#46075a 10px,#481467 13px,#471063 18px,#482677 20px,#472c7a 26px,#470e61 30px,#481769 33px,#46075a 35px,#481769 38px,#460a5d 41px,#470e61 42px,#453581 45px,#453781 48px,#481769 51px,#460a5d 53px,#481d6f 57px,#481d6f 59px,#46307e 61px,#46327e 63px,#471164 66px,#470e61 67px,#46337f 71px,#46327e 74px,#481c6e 79px,#482374 83px,#471164 85px,#472a7a 87px,#472e7c 89px,#471164 93px,#470e61 94px,#46327e 96px,#463480 101px,#482878 104px,#472e7c 107px,#482374 109px,#46075a 111px,#460b5e 112px,#46307e 115px,#46337f 117px,#482173 121px,#482878 123px,#414287 127px,#3f4889 131px,#423f85 132px,#460a5d 134px,#481a6c 135px,#424186 137px,#3f4889 138px,#433d84 143px,#46307e 144px,#46337f 145px,#3e4989 147px,#404588 148px,#482173 150px,#481668 151px,#482071 153px,#481f70 154px,#470e61 155px,#471365 156px,#463480 157px,#3f4788 158px,#3e4a89 159px,#423f85 160px,#482576 161px,#472c7a 162px,#443b84 163px,#433d84 164px,#460b5e 168px,#460a5d 178px,#481a6c 185px,#482374 186px,#471365 189px,#470d60 195px,#450559 201px,#46085c 323px,#46075a 334px,#460b5e 338px,#46307e 341px,#453781 343px,#472e7c 344px,#481668 345px,#470e61 346px,#472c7a 347px,#433e85 348px,#414487 350px,#433d84 351px,#481c6e 353px,#470d60 355px,#482173 356px,#424086 357px,#3a548c 358px,#365c8d 359px,#38588c 361px,#443a83 363px,#443a83 364px,#3e4a89 366px,#3e4a89 369px,#453882 371px,#453882 373px,#481467 376px,#481b6d 380px,#453581 382px,#443b84 383px,#443a83 384px,#472f7d 385px,#481c6e 386px,#48186a 387px,#453781 389px,#433d84 391px,#443983 392px,#472d7b 393px,#471365 394px,#471164 395px,#482677 396px,#472f7d 397px,#482677 399px,#470d60 401px,#470e61 403px,#46307e 407px,#482979 410px,#470e61 413px,#481769 416px,#48186a 418px,#482878 420px,#482979 421px,#481b6d 423px,#472e7c 425px,#472a7a 427px,#471063 430px,#481467 433px,#470e61 434px,#481b6d 436px,#471365 439px,#48186a 442px,#482071 444px,#460b5e 446px,#472c7a 448px,#46327e 450px,#472e7c 454px,#481f70 457px,#472e7c 460px,#482576 462px,#481467 463px,#471164 464px,#482173 465px,#482979 466px,#482576 467px,#46075a 469px,#470d60 471px,#482475 473px,#482071 475px,#460a5d 478px,#450559 495px)"></div><div style="top:232px;height:3px;background:linear-gradient(90deg,#46075a 4px,#471164 8px,#46085c 10px,#471365 13px,#471365 16px,#460a5d 18px,#482374 20px,#481f70 27px,#470d60 35px,#48186a 38px,#450559 42px,#472e7c 45px,#472e7c 48px,#46085c 50px,#481a6c 57px,#460a5d 59px,#482677 61px,#482979 63px,#460a5d 67px,#470e61 68px,#482677 70px,#472d7b 73px,#481c6e 76px,#482374 79px,#482071 83px,#470d60 85px,#482173 87px,#482173 89px,#471063 91px,#48186a 94px,#482979 96px,#482979 101px,#472d7b 107px,#460b5e 111px,#481b6d 114px,#482979 116px,#482576 117px,#481769 118px,#471365 119px,#46307e 124px,#472f7d 129px,#443983 131px,#463480 132px,#470e61 134px,#471365 135px,#472f7d 137px,#463480 138px,#482071 140px,#482677 143px,#481668 144px,#481467 145px,#443b84 146px,#3d4e8a 147px,#3d4d8a 148px,#443b84 149px,#481d6f 150px,#46085c 151px,#482374 153px,#482475 154px,#481b6d 155px,#481c6e 156px,#404688 158px,#3f4889 159px,#453581 162px,#472f7d 164px,#46075a 168px,#460a5d 179px,#482374 185px,#482979 186px,#470d60 188px,#460a5d 189px,#481668 192px,#450457 200px,#450559 323px,#46085c 327px,#460a5d 335px,#471063 338px,#482576 342px,#472d7b 343px,#481f70 345px,#481f70 346px,#433d84 348px,#433e85 350px,#46337f 351px,#460a5d 353px,#481467 355px,#482475 356px,#3e4c8a 358px,#3b528b 360px,#3e4989 362px,#443a83 364px,#463480 368px,#423f85 370px,#463480 373px,#46075a 376px,#48186a 378px,#481668 380px,#472e7c 383px,#472c7a 385px,#482071 387px,#46327e 391px,#482878 393px,#48186a 394px,#481769 395px,#482677 397px,#482071 399px,#46085c 401px,#450559 402px,#482979 406px,#482979 408px,#481467 413px,#471365 416px,#470d60 418px,#482878 421px,#472d7b 426px,#482071 428px,#46075a 430px,#481c6e 433px,#482071 444px,#471164 446px,#482979 448px,#472e7c 451px,#481c6e 456px,#481a6c 458px,#482576 460px,#481a6c 463px,#482979 466px,#481c6e 468px,#471365 470px,#482576 473px,#481a6c 476px,#460a5d 479px,#450559 495px)"></div><div style="top:228px;height:4px;background:linear-gradient(90deg,#450559 4px,#460b5e 9px,#471063 13px,#470e61 15px,#481d6f 21px,#48186a 24px,#481668 30px,#46075a 33px,#48186a 38px,#470d60 42px,#482878 46px,#482677 48px,#460b5e 50px,#481769 57px,#470d60 59px,#482071 61px,#481f70 63px,#46075a 67px,#460a5d 68px,#482173 70px,#482173 74px,#460b5e 76px,#481c6e 77px,#482374 79px,#481a6c 82px,#481a6c 86px,#481b6d 88px,#46085c 91px,#460a5d 92px,#482071 95px,#481b6d 99px,#471365 100px,#482576 103px,#482878 107px,#471365 110px,#470d60 114px,#482071 116px,#481d6f 117px,#470d60 118px,#460a5d 119px,#472d7b 124px,#481c6e 126px,#482173 128px,#481467 129px,#481b6d 130px,#472e7c 131px,#472e7c 132px,#46085c 135px,#471164 136px,#482576 137px,#482979 138px,#460a5d 140px,#482475 145px,#414487 146px,#3b518b 147px,#3c508b 148px,#424186 149px,#482878 150px,#48186a 151px,#472a7a 154px,#482475 156px,#424086 158px,#424086 160px,#482173 164px,#471365 165px,#46085c 170px,#46085c 179px,#472a7a 186px,#481769 187px,#460a5d 188px,#46075a 189px,#481769 191px,#450457 200px,#450457 264px,#460a5d 336px,#481769 339px,#481467 340px,#46085c 341px,#482475 343px,#481c6e 345px,#482071 346px,#453581 348px,#46327e 350px,#460b5e 353px,#482173 356px,#433e85 358px,#404588 360px,#423f85 362px,#482979 364px,#482878 366px,#481a6c 367px,#481668 368px,#472c7a 369px,#453882 370px,#463480 372px,#481668 375px,#471164 376px,#481b6d 378px,#460b5e 380px,#460b5e 381px,#482475 384px,#48186a 388px,#482677 392px,#481b6d 396px,#481f70 398px,#46085c 402px,#482374 406px,#482071 408px,#481467 409px,#481668 415px,#450559 418px,#482475 421px,#482677 426px,#471164 430px,#482071 433px,#482173 442px,#48186a 446px,#482878 449px,#482071 453px,#460b5e 458px,#481d6f 460px,#481668 463px,#482576 466px,#481b6d 470px,#482071 474px,#46075a 480px,#450457 495px)"></div><div style="top:225px;height:3px;background:linear-gradient(90deg,#46075a 4px,#471063 13px,#46085c 14px,#481d6f 17px,#481668 21px,#460a5d 23px,#471164 25px,#460a5d 27px,#481769 29px,#450559 33px,#481467 38px,#471164 44px,#482173 46px,#482374 48px,#470d60 50px,#481a6c 60px,#481b6d 62px,#46075a 65px,#481f70 70px,#471063 72px,#481c6e 73px,#48186a 75px,#481668 76px,#482374 78px,#48186a 80px,#470d60 81px,#481c6e 87px,#46075a 89px,#470e61 91px,#482071 95px,#460a5d 97px,#481a6c 98px,#481769 99px,#46085c 100px,#481c6e 103px,#482374 107px,#481c6e 108px,#460a5d 109px,#481668 111px,#46075a 114px,#481b6d 116px,#471164 120px,#46085c 121px,#482878 123px,#472a7a 124px,#482071 125px,#46085c 126px,#481f70 128px,#471164 129px,#48186a 130px,#482979 131px,#482878 132px,#471063 135px,#481668 136px,#482475 137px,#482475 138px,#471365 139px,#460a5d 140px,#470e61 141px,#46075a 142px,#481467 143px,#3e4c8a 146px,#3d4e8a 148px,#424186 149px,#482878 150px,#481c6e 151px,#472a7a 153px,#472a7a 154px,#481a6c 156px,#482475 157px,#443983 158px,#443a83 160px,#482374 162px,#481a6c 164px,#46085c 165px,#470d60 167px,#46085c 170px,#460b5e 180px,#482677 185px,#482677 186px,#460b5e 187px,#481769 191px,#450457 197px,#46075a 255px,#460a5d 258px,#450559 283px,#46085c 331px,#46075a 336px,#481668 340px,#471164 341px,#482071 343px,#470e61 345px,#481769 346px,#482878 347px,#472f7d 348px,#471063 353px,#482071 357px,#453581 359px,#463480 362px,#471063 364px,#481f70 366px,#470d60 368px,#482475 369px,#472f7d 370px,#472d7b 372px,#470e61 374px,#481d6f 378px,#460b5e 380px,#471365 383px,#481c6e 385px,#460b5e 389px,#481f70 393px,#481a6c 395px,#470e61 396px,#481a6c 398px,#460a5d 401px,#481f70 407px,#481b6d 408px,#460b5e 409px,#471365 411px,#460b5e 413px,#481769 415px,#450559 417px,#460b5e 419px,#482071 421px,#482173 426px,#471164 428px,#482071 433px,#481668 437px,#482173 440px,#48186a 443px,#471063 444px,#482475 450px,#481d6f 452px,#470e61 454px,#471164 456px,#46075a 458px,#481a6c 460px,#46075a 462px,#482173 466px,#481a6c 470px,#48186a 475px,#450457 480px,#450457 495px)"></div><div style="top:222px;height:3px;background:linear-gradient(90deg,#46075a 4px,#450559 11px,#471365 13px,#481c6e 18px,#470d60 21px,#450559 23px,#470e61 25px,#460a5d 27px,#471164 30px,#450559 32px,#470d60 36px,#471164 39px,#481668 43px,#470d60 44px,#470d60 45px,#481c6e 46px,#481c6e 48px,#450559 51px,#470d60 53px,#46085c 55px,#481769 61px,#46075a 65px,#481d6f 69px,#481467 71px,#470e61 72px,#48186a 74px,#481c6e 79px,#450559 81px,#481a6c 87px,#470e61 89px,#470e61 92px,#481d6f 95px,#481467 97px,#481a6c 99px,#471063 102px,#481d6f 107px,#471164 109px,#48186a 111px,#46085c 114px,#481a6c 118px,#470e61 121px,#482475 123px,#482677 124px,#471063 126px,#481f70 128px,#482173 131px,#481769 133px,#482173 137px,#460b5e 140px,#470e61 142px,#481b6d 143px,#433e85 145px,#3f4788 147px,#404588 148px,#443983 149px,#481668 150px,#470e61 151px,#481d6f 152px,#482374 154px,#482071 155px,#470e61 156px,#481467 157px,#46307e 158px,#46337f 160px,#482979 161px,#460b5e 162px,#481668 163px,#481769 164px,#470e61 165px,#450457 169px,#46075a 180px,#48186a 183px,#481a6c 184px,#472c7a 186px,#471365 187px,#481a6c 190px,#460b5e 193px,#450559 199px,#46075a 254px,#471063 257px,#450457 260px,#450559 330px,#46085c 337px,#481a6c 342px,#481467 344px,#46085c 345px,#482374 347px,#482677 348px,#481f70 349px,#470d60 350px,#471063 352px,#460a5d 353px,#481467 355px,#460b5e 357px,#481f70 358px,#482979 362px,#470d60 364px,#481769 365px,#471063 368px,#482475 370px,#482173 372px,#450559 374px,#481b6d 377px,#450559 383px,#481467 385px,#450457 389px,#470d60 391px,#470d60 392px,#481b6d 394px,#460b5e 396px,#481769 398px,#450559 400px,#481769 404px,#470e61 406px,#481a6c 408px,#481467 411px,#460a5d 413px,#481769 415px,#46085c 418px,#481c6e 421px,#471365 423px,#481c6e 426px,#46085c 428px,#481c6e 430px,#471365 435px,#46085c 437px,#481b6d 439px,#48186a 442px,#450559 444px,#471365 446px,#471365 448px,#481d6f 450px,#481467 452px,#450559 454px,#470d60 456px,#460a5d 458px,#481769 460px,#460a5d 462px,#481b6d 467px,#460b5e 469px,#48186a 471px,#471063 473px,#471365 475px,#450559 479px,#450559 495px)"></div><div style="top:218px;height:4px;background:linear-gradient(90deg,#450559 4px,#46075a 11px,#481769 14px,#481467 19px,#46075a 20px,#470e61 30px,#450457 32px,#460a5d 35px,#450457 38px,#481467 43px,#471063 45px,#481769 48px,#46085c 51px,#470d60 53px,#46075a 55px,#450457 57px,#471365 60px,#450559 63px,#481a6c 69px,#470e61 74px,#481a6c 78px,#46085c 82px,#46085c 85px,#481769 87px,#470d60 91px,#46075a 92px,#48186a 94px,#481668 100px,#450559 102px,#46085c 105px,#48186a 107px,#481467 112px,#450559 115px,#48186a 119px,#471365 121px,#482071 124px,#470e61 126px,#481c6e 129px,#48186a 131px,#460a5d 133px,#481b6d 135px,#48186a 137px,#450559 141px,#443a83 146px,#443b84 148px,#46307e 149px,#471365 150px,#471063 151px,#481a6c 152px,#471365 154px,#481c6e 155px,#481c6e 157px,#472c7a 159px,#482475 161px,#481467 162px,#450559 174px,#46075a 180px,#471365 182px,#470d60 184px,#453781 186px,#482374 187px,#481a6c 188px,#471164 191px,#450559 192px,#450559 254px,#471164 257px,#450457 261px,#46075a 338px,#481467 341px,#470d60 345px,#481d6f 348px,#460a5d 350px,#471063 351px,#450457 353px,#471164 355px,#460a5d 357px,#481769 358px,#481668 359px,#460a5d 360px,#481f70 362px,#470d60 366px,#450559 367px,#481467 369px,#48186a 372px,#450559 374px,#481668 377px,#46085c 383px,#470d60 385px,#450559 389px,#46075a 392px,#481668 394px,#471365 397px,#471063 399px,#46075a 401px,#481668 404px,#46085c 406px,#481668 408px,#470e61 413px,#481668 415px,#460b5e 419px,#481769 421px,#481467 422px,#46075a 423px,#481668 426px,#471164 428px,#481a6c 431px,#450457 437px,#481668 439px,#470e61 441px,#471164 443px,#470d60 445px,#450559 448px,#481668 450px,#450559 454px,#470e61 459px,#471365 461px,#46075a 464px,#481467 467px,#460a5d 469px,#481668 471px,#450559 473px,#470d60 475px,#450457 477px,#450457 495px)"></div><div style="top:215px;height:3px;background:linear-gradient(90deg,#450457 4px,#460b5e 11px,#481668 15px,#471365 19px,#450457 24px,#460b5e 27px,#46075a 29px,#460b5e 31px,#46085c 35px,#450559 38px,#460b5e 40px,#450559 41px,#471365 43px,#471063 46px,#471063 48px,#460b5e 50px,#470d60 53px,#450559 57px,#471063 60px,#450559 63px,#481769 69px,#470d60 73px,#450559 74px,#481668 77px,#450559 84px,#471365 88px,#46075a 92px,#481668 95px,#471063 101px,#46085c 103px,#450457 105px,#481668 107px,#481668 111px,#450457 115px,#481668 119px,#471365 122px,#481b6d 124px,#46075a 126px,#48186a 129px,#450559 133px,#48186a 135px,#481a6c 136px,#46075a 138px,#471063 140px,#471063 141px,#482173 143px,#482173 145px,#472f7d 146px,#46327e 148px,#482979 149px,#481668 150px,#471164 151px,#481769 152px,#46085c 154px,#481c6e 155px,#482173 161px,#46085c 164px,#470e61 167px,#450559 178px,#470e61 183px,#470d60 184px,#453882 186px,#482475 187px,#481769 188px,#470e61 191px,#46075a 193px,#440256 254px,#471164 257px,#440256 262px,#46075a 338px,#470e61 342px,#46085c 344px,#481769 348px,#471063 352px,#460b5e 354px,#481467 358px,#46085c 360px,#481769 362px,#460a5d 367px,#471164 369px,#46075a 370px,#481467 372px,#450457 374px,#471164 377px,#46085c 379px,#470d60 384px,#440256 387px,#470e61 395px,#471063 399px,#450559 402px,#481467 404px,#471365 409px,#470d60 413px,#471365 416px,#46075a 419px,#471365 421px,#470d60 425px,#481668 431px,#46075a 433px,#450457 437px,#471365 439px,#471164 440px,#46075a 441px,#471164 442px,#46085c 448px,#471164 450px,#450559 452px,#460a5d 459px,#471063 462px,#46075a 464px,#481467 471px,#46085c 473px,#450457 495px)"></div><div style="top:212px;height:3px;background:linear-gradient(90deg,#450457 4px,#450457 6px,#450559 8px,#450457 9px,#471063 12px,#471365 14px,#470e61 17px,#471063 19px,#460b5e 21px,#46085c 23px,#450457 24px,#470d60 26px,#460b5e 27px,#46075a 28px,#46075a 29px,#470d60 30px,#470d60 34px,#450559 36px,#460b5e 40px,#46075a 41px,#471164 43px,#471063 44px,#46085c 45px,#46085c 46px,#471063 47px,#460b5e 48px,#450457 49px,#460b5e 50px,#471063 52px,#46075a 55px,#450559 57px,#460b5e 59px,#470d60 60px,#440256 62px,#470d60 65px,#471365 69px,#470e61 72px,#450559 74px,#471164 76px,#471164 78px,#450559 82px,#450559 84px,#46075a 85px,#470e61 87px,#470e61 90px,#460a5d 92px,#471164 94px,#471164 100px,#450457 104px,#450457 105px,#471164 107px,#471365 110px,#471164 111px,#450559 113px,#450559 116px,#471063 118px,#471164 119px,#471063 120px,#460a5d 121px,#460a5d 122px,#471365 123px,#481668 124px,#471063 125px,#46075a 126px,#460a5d 127px,#471164 128px,#471365 129px,#46085c 131px,#450559 132px,#46075a 133px,#471365 135px,#481668 136px,#46085c 138px,#471164 139px,#481f70 142px,#482071 143px,#470d60 145px,#482374 146px,#482979 147px,#482878 148px,#482071 149px,#471063 150px,#460b5e 151px,#481467 152px,#481668 153px,#481467 154px,#481d6f 155px,#481f70 156px,#481b6d 157px,#471063 158px,#481467 159px,#481d6f 160px,#481a6c 162px,#471164 163px,#450559 164px,#470d60 166px,#450457 173px,#450559 178px,#46085c 181px,#471164 184px,#481f70 185px,#46327e 186px,#481a6c 187px,#471063 188px,#471164 189px,#46075a 192px,#440256 197px,#450457 220px,#450457 252px,#450457 254px,#471063 256px,#471164 257px,#46075a 259px,#440256 263px,#450457 329px,#450457 333px,#450559 337px,#460a5d 341px,#460a5d 342px,#450559 343px,#471063 346px,#470e61 348px,#471365 351px,#46085c 354px,#470d60 356px,#471164 358px,#46085c 360px,#471164 362px,#470e61 364px,#470e61 367px,#471164 368px,#471164 369px,#460a5d 370px,#471063 371px,#471365 372px,#460b5e 373px,#46075a 374px,#470e61 376px,#470d60 377px,#450457 379px,#460a5d 381px,#460b5e 384px,#440256 386px,#46085c 392px,#470d60 393px,#470d60 394px,#46075a 395px,#471164 397px,#471164 398px,#471063 399px,#450457 401px,#450457 402px,#470d60 403px,#471164 404px,#471164 406px,#46085c 408px,#471063 409px,#471164 410px,#471063 411px,#46075a 412px,#46085c 413px,#471063 414px,#471164 415px,#460a5d 418px,#450457 419px,#46085c 420px,#471164 421px,#471164 422px,#450559 425px,#471063 427px,#471164 431px,#470e61 432px,#450559 433px,#46075a 435px,#440256 436px,#440256 437px,#471063 439px,#471063 441px,#481668 442px,#470e61 444px,#46075a 445px,#450457 446px,#470e61 449px,#470d60 450px,#450559 451px,#450457 452px,#450559 455px,#450457 458px,#450559 459px,#471063 461px,#470e61 463px,#460b5e 464px,#470e61 465px,#46085c 466px,#460a5d 467px,#471164 468px,#471164 471px,#450559 474px,#450559 478px,#440256 488px,#450457 495px)"></div><div style="top:208px;height:4px;background:linear-gradient(90deg,#440256 4px,#450559 8px,#440256 9px,#470d60 11px,#471063 14px,#46075a 17px,#460b5e 18px,#470d60 19px,#460a5d 21px,#46085c 23px,#450559 24px,#470d60 26px,#46085c 28px,#470d60 30px,#460a5d 35px,#46085c 36px,#460b5e 40px,#460a5d 41px,#470e61 43px,#470e61 44px,#460a5d 45px,#460a5d 46px,#470e61 47px,#46085c 49px,#470d60 50px,#470d60 53px,#450457 55px,#450559 56px,#450457 57px,#460a5d 59px,#450559 62px,#460b5e 65px,#460b5e 67px,#470e61 69px,#460b5e 71px,#470d60 72px,#46075a 74px,#470e61 77px,#46085c 79px,#46075a 85px,#460a5d 86px,#460a5d 91px,#460a5d 92px,#470d60 94px,#460b5e 97px,#470e61 100px,#460a5d 102px,#440256 104px,#46085c 106px,#470e61 108px,#471063 110px,#470e61 111px,#46075a 112px,#450457 113px,#440256 116px,#46085c 117px,#470d60 119px,#460b5e 120px,#450559 121px,#450457 122px,#470e61 123px,#471164 124px,#470e61 125px,#46085c 126px,#470e61 129px,#450457 131px,#450559 133px,#470d60 134px,#470d60 135px,#471164 136px,#471063 137px,#460b5e 138px,#48186a 140px,#481d6f 142px,#481d6f 143px,#460b5e 145px,#481a6c 146px,#481f70 147px,#481f70 148px,#481a6c 149px,#460a5d 150px,#450559 151px,#471164 152px,#481769 153px,#481c6e 155px,#481b6d 156px,#481769 157px,#470e61 158px,#471063 159px,#48186a 160px,#481668 162px,#46075a 164px,#460a5d 166px,#440256 173px,#450559 181px,#470e61 184px,#481b6d 185px,#482979 186px,#460b5e 187px,#46085c 188px,#460b5e 189px,#450559 191px,#440256 201px,#440256 252px,#450559 254px,#471063 256px,#471063 257px,#46085c 258px,#440256 261px,#440256 329px,#450457 336px,#46085c 338px,#46075a 341px,#450559 343px,#470d60 345px,#470d60 346px,#46075a 348px,#470d60 349px,#471164 350px,#471063 352px,#450559 354px,#450559 355px,#470e61 357px,#470e61 358px,#450559 360px,#470d60 362px,#46085c 363px,#471164 368px,#470d60 370px,#471063 371px,#471063 372px,#460b5e 373px,#460a5d 374px,#460a5d 377px,#450457 379px,#460a5d 382px,#46085c 385px,#450457 387px,#46075a 390px,#450457 391px,#460b5e 393px,#460a5d 394px,#450457 395px,#470e61 397px,#470e61 399px,#450457 401px,#450457 402px,#470d60 403px,#471063 404px,#470d60 407px,#46075a 408px,#470d60 409px,#471063 410px,#470e61 411px,#46075a 412px,#46075a 413px,#470d60 414px,#470e61 415px,#460a5d 418px,#450559 419px,#46085c 420px,#470e61 421px,#470e61 422px,#450457 425px,#470d60 427px,#470e61 431px,#450559 433px,#46075a 434px,#440256 436px,#450457 437px,#470e61 439px,#471365 441px,#48186a 442px,#471063 443px,#470e61 444px,#450559 446px,#470d60 449px,#450559 451px,#450457 456px,#450457 459px,#470d60 461px,#471063 462px,#470d60 464px,#470e61 465px,#460b5e 467px,#471063 469px,#470e61 472px,#450559 474px,#450457 479px,#440256 493px,#440256 495px)"></div><div style="top:205px;height:3px;background:linear-gradient(90deg,#440154 4px,#450559 8px,#440256 9px,#470d60 11px,#470d60 14px,#450457 17px,#460b5e 19px,#46075a 20px,#460a5d 22px,#450457 24px,#470d60 26px,#46075a 28px,#460b5e 29px,#46075a 36px,#460b5e 37px,#46075a 39px,#470d60 40px,#460a5d 42px,#470e61 44px,#460b5e 47px,#460a5d 48px,#470e61 50px,#460a5d 52px,#470d60 53px,#450457 55px,#450559 56px,#440256 57px,#46085c 59px,#450559 60px,#460a5d 61px,#46075a 64px,#460a5d 65px,#46075a 66px,#470d60 69px,#46085c 70px,#460b5e 72px,#450559 73px,#460a5d 77px,#450559 79px,#46075a 80px,#450559 81px,#460a5d 83px,#450457 85px,#460a5d 86px,#450559 87px,#46085c 88px,#46075a 90px,#46085c 91px,#46075a 92px,#460a5d 94px,#450559 96px,#460b5e 101px,#440256 104px,#460b5e 108px,#460b5e 109px,#470e61 110px,#470d60 111px,#450457 112px,#46075a 115px,#450559 116px,#46085c 117px,#46075a 118px,#460a5d 119px,#46085c 120px,#450457 121px,#450457 122px,#460b5e 123px,#470d60 125px,#46085c 126px,#460b5e 129px,#450457 131px,#450457 132px,#46075a 133px,#470d60 134px,#450559 135px,#470d60 136px,#471063 137px,#460a5d 138px,#470e61 139px,#481668 140px,#481a6c 142px,#48186a 143px,#470d60 145px,#481769 148px,#460b5e 150px,#46085c 151px,#481467 153px,#48186a 155px,#481769 156px,#471164 157px,#471365 162px,#46075a 164px,#46085c 166px,#450457 168px,#440256 174px,#440256 181px,#460a5d 184px,#481467 185px,#482173 186px,#450559 187px,#450457 188px,#46085c 189px,#440256 191px,#440256 252px,#450559 254px,#471063 256px,#470e61 257px,#450457 258px,#440256 273px,#440256 336px,#46085c 337px,#450457 341px,#450559 342px,#450457 343px,#470d60 345px,#460b5e 346px,#450559 347px,#440256 348px,#460b5e 349px,#470e61 350px,#460b5e 353px,#450457 354px,#450457 355px,#46075a 356px,#470d60 357px,#460b5e 358px,#440256 360px,#460a5d 362px,#450457 363px,#46075a 364px,#46075a 365px,#471063 368px,#460a5d 370px,#470e61 371px,#470e61 372px,#46085c 373px,#460a5d 375px,#46075a 376px,#46085c 377px,#450457 379px,#450559 380px,#450457 381px,#46085c 382px,#450559 383px,#460a5d 385px,#440256 388px,#450559 390px,#440256 391px,#460a5d 393px,#46075a 395px,#470d60 397px,#470d60 399px,#440256 401px,#450457 402px,#470d60 403px,#470e61 407px,#460a5d 409px,#470e61 411px,#46075a 413px,#470d60 415px,#46085c 416px,#460a5d 418px,#450559 419px,#46075a 420px,#470d60 421px,#470d60 422px,#450559 425px,#450559 426px,#460b5e 427px,#46075a 430px,#470d60 431px,#450457 433px,#46085c 434px,#450457 435px,#450457 437px,#46075a 438px,#470d60 439px,#470e61 440px,#481a6c 442px,#470e61 443px,#46085c 446px,#450457 447px,#460b5e 448px,#470d60 449px,#46075a 450px,#46075a 452px,#440256 453px,#450559 456px,#46085c 457px,#450559 460px,#470e61 462px,#460a5d 464px,#470e61 465px,#470e61 466px,#460a5d 467px,#470e61 469px,#460a5d 473px,#450457 475px,#450457 478px,#440256 487px,#440256 495px)"></div><div style="top:202px;height:3px;background:linear-gradient(90deg,#440154 4px,#46075a 8px,#450559 9px,#470d60 10px,#46075a 13px,#460b5e 14px,#450457 15px,#46075a 17px,#450457 18px,#460b5e 19px,#450457 20px,#450559 23px,#440256 24px,#460b5e 26px,#450457 28px,#460b5e 29px,#450559 32px,#46075a 33px,#46075a 35px,#450457 36px,#460b5e 37px,#46075a 39px,#460b5e 40px,#46075a 42px,#460b5e 44px,#460a5d 47px,#450559 48px,#460b5e 49px,#460b5e 51px,#450559 52px,#460b5e 53px,#450559 57px,#460a5d 58px,#460a5d 59px,#46075a 60px,#460b5e 61px,#450457 64px,#46085c 65px,#450559 68px,#46085c 69px,#460b5e 72px,#450559 73px,#46085c 74px,#450457 75px,#450559 77px,#440256 79px,#450559 80px,#440256 81px,#460b5e 83px,#46075a 85px,#460a5d 86px,#450559 87px,#46075a 88px,#450457 90px,#46075a 91px,#450457 92px,#46075a 94px,#440256 96px,#450457 98px,#46075a 99px,#450559 100px,#460a5d 101px,#450457 103px,#440256 104px,#450559 106px,#450457 107px,#46085c 108px,#450559 109px,#460b5e 110px,#470d60 111px,#46075a 112px,#460a5d 116px,#460a5d 117px,#450457 118px,#46075a 120px,#440256 121px,#46085c 123px,#46075a 124px,#460b5e 125px,#450559 126px,#450457 128px,#46075a 130px,#46075a 132px,#470d60 134px,#46075a 135px,#460b5e 136px,#470d60 137px,#450559 138px,#460a5d 139px,#471063 140px,#471164 142px,#470d60 145px,#46075a 146px,#471063 148px,#46085c 149px,#460b5e 150px,#46085c 152px,#470e61 153px,#471063 154px,#481467 155px,#471365 156px,#46085c 157px,#471063 158px,#471063 159px,#460b5e 160px,#470e61 162px,#450457 164px,#46075a 166px,#440256 167px,#450457 169px,#440154 174px,#440256 182px,#450559 184px,#470d60 185px,#481b6d 186px,#46085c 187px,#440256 188px,#450559 189px,#440154 193px,#440256 252px,#46075a 255px,#470e61 256px,#470d60 257px,#450559 258px,#440154 265px,#440256 336px,#46085c 337px,#460a5d 338px,#450457 339px,#440256 343px,#460b5e 345px,#460a5d 346px,#450457 347px,#450457 348px,#460b5e 349px,#470d60 350px,#46085c 351px,#460a5d 353px,#450457 355px,#450457 356px,#460b5e 357px,#450457 359px,#460a5d 362px,#450457 363px,#450559 364px,#440256 365px,#470d60 368px,#450559 370px,#470d60 371px,#470d60 372px,#450457 373px,#460a5d 375px,#450457 376px,#46075a 377px,#450457 378px,#440256 379px,#46075a 380px,#450457 381px,#460a5d 382px,#46075a 384px,#460b5e 385px,#440256 388px,#450457 390px,#440256 391px,#46085c 393px,#450457 394px,#46085c 395px,#460a5d 397px,#46075a 398px,#460b5e 399px,#440256 401px,#460b5e 403px,#460b5e 404px,#46075a 405px,#470d60 406px,#470d60 408px,#46075a 409px,#470d60 411px,#450457 413px,#460b5e 415px,#46085c 417px,#46085c 418px,#450457 419px,#450559 420px,#460a5d 421px,#460a5d 422px,#450559 424px,#450457 426px,#46085c 427px,#450559 430px,#460b5e 431px,#450559 433px,#460a5d 434px,#450457 437px,#450559 438px,#460a5d 439px,#460b5e 440px,#471063 441px,#48186a 442px,#460a5d 443px,#460b5e 445px,#46075a 447px,#460b5e 448px,#460b5e 449px,#450457 450px,#46075a 452px,#450559 453px,#460a5d 458px,#440256 460px,#470d60 462px,#46085c 464px,#470d60 465px,#470d60 466px,#46075a 467px,#460b5e 468px,#470d60 469px,#460a5d 471px,#460b5e 472px,#450457 475px,#440256 479px,#440154 495px)"></div><div style="top:198px;height:4px;background:linear-gradient(90deg,#440154 4px,#450559 8px,#46085c 9px,#471063 10px,#450559 12px,#450457 13px,#46085c 14px,#450559 15px,#460a5d 19px,#450457 22px,#440256 24px,#460a5d 26px,#450559 28px,#460a5d 29px,#450457 31px,#440256 32px,#450559 33px,#450457 34px,#450559 35px,#450457 36px,#460a5d 37px,#460a5d 40px,#450457 42px,#46085c 44px,#46085c 47px,#450559 48px,#460b5e 50px,#46085c 52px,#460a5d 53px,#450559 57px,#460a5d 58px,#46085c 62px,#440154 64px,#46085c 66px,#46085c 67px,#450457 68px,#460a5d 72px,#46085c 74px,#450457 75px,#450457 80px,#460a5d 83px,#46085c 86px,#450457 88px,#450559 91px,#440256 92px,#450457 97px,#440256 100px,#46075a 101px,#450457 102px,#440154 104px,#450457 106px,#440256 107px,#450559 109px,#460a5d 110px,#460a5d 111px,#450559 113px,#460b5e 116px,#460a5d 117px,#450559 118px,#46075a 120px,#450559 121px,#46085c 123px,#46075a 124px,#46085c 125px,#440256 126px,#46085c 133px,#460b5e 134px,#46085c 136px,#460a5d 137px,#450457 138px,#460b5e 141px,#46085c 142px,#460b5e 145px,#450559 146px,#46075a 147px,#460b5e 148px,#46075a 149px,#460b5e 150px,#46085c 151px,#450457 152px,#460a5d 153px,#46075a 154px,#470e61 155px,#470e61 156px,#46075a 157px,#460b5e 158px,#460b5e 159px,#450559 160px,#460a5d 162px,#450559 163px,#450559 166px,#440154 168px,#440256 183px,#450559 185px,#471164 186px,#470d60 187px,#450457 188px,#440154 198px,#440256 253px,#450457 254px,#440256 255px,#460b5e 256px,#440154 260px,#440256 336px,#470d60 338px,#450457 339px,#440256 343px,#46075a 344px,#46075a 346px,#450559 348px,#460a5d 349px,#460a5d 350px,#450457 351px,#46075a 352px,#450559 356px,#460a5d 357px,#450457 359px,#46075a 362px,#440256 363px,#46075a 366px,#450559 367px,#460a5d 368px,#450457 370px,#460a5d 371px,#460a5d 372px,#450559 373px,#46085c 375px,#450457 376px,#46075a 377px,#450457 379px,#46075a 380px,#450559 381px,#46085c 382px,#46075a 384px,#46085c 386px,#440256 388px,#440256 391px,#46075a 393px,#450559 394px,#46085c 395px,#450559 396px,#46075a 397px,#450559 398px,#460a5d 399px,#450457 401px,#460a5d 403px,#450559 405px,#460a5d 406px,#460a5d 408px,#450559 409px,#460b5e 411px,#46085c 412px,#440256 413px,#46085c 416px,#450559 418px,#440256 419px,#46075a 421px,#450457 424px,#440256 426px,#450559 427px,#450559 429px,#460a5d 431px,#46075a 433px,#460a5d 435px,#450559 439px,#460a5d 441px,#481769 442px,#46075a 443px,#46085c 445px,#46075a 446px,#460a5d 448px,#460a5d 449px,#440256 450px,#46075a 452px,#450559 453px,#46085c 457px,#450559 459px,#440256 460px,#450457 461px,#460a5d 462px,#46085c 464px,#460b5e 466px,#460a5d 469px,#46075a 470px,#460a5d 472px,#450457 473px,#440154 483px,#440154 495px)"></div><div style="top:195px;height:3px;background:linear-gradient(90deg,#440154 4px,#440256 7px,#46075a 9px,#471063 10px,#450559 11px,#440256 12px,#46075a 14px,#450457 15px,#46085c 19px,#46075a 20px,#440256 21px,#450457 25px,#46075a 26px,#450457 27px,#46085c 29px,#450457 31px,#450559 33px,#450559 36px,#46085c 37px,#46075a 40px,#450457 41px,#450457 45px,#46075a 47px,#46075a 49px,#46085c 51px,#450559 56px,#46085c 59px,#46075a 62px,#440154 64px,#46075a 66px,#450457 69px,#46075a 70px,#46075a 74px,#440256 75px,#440256 80px,#46075a 82px,#450559 87px,#440256 88px,#46075a 90px,#440256 95px,#450559 97px,#440256 100px,#450559 101px,#440256 104px,#450559 109px,#46085c 111px,#450457 113px,#460a5d 116px,#450559 119px,#46075a 120px,#450559 121px,#46075a 125px,#440256 126px,#450559 133px,#46075a 135px,#450457 136px,#46075a 137px,#450457 138px,#46075a 141px,#450457 142px,#460a5d 145px,#46075a 146px,#460a5d 148px,#46085c 151px,#450457 152px,#450559 153px,#450457 154px,#460a5d 155px,#46075a 159px,#450457 160px,#46085c 162px,#450457 163px,#440154 179px,#440154 184px,#450457 185px,#470d60 186px,#471063 187px,#450457 188px,#440154 196px,#440154 253px,#440256 255px,#46085c 256px,#46075a 258px,#440154 260px,#440154 336px,#460b5e 338px,#440256 339px,#440256 343px,#460a5d 344px,#450559 345px,#450457 348px,#46085c 349px,#46075a 350px,#440256 351px,#46075a 354px,#450457 355px,#46075a 357px,#440256 360px,#46075a 362px,#440256 363px,#46085c 368px,#450457 369px,#46085c 371px,#46075a 372px,#450457 373px,#46075a 375px,#450457 376px,#450559 377px,#450457 379px,#450559 380px,#450457 381px,#450559 383px,#450457 384px,#46075a 386px,#440154 390px,#46075a 395px,#450559 397px,#46085c 400px,#46075a 403px,#440256 404px,#46085c 406px,#46075a 408px,#450457 409px,#46085c 411px,#440256 414px,#46075a 417px,#440256 418px,#440256 426px,#450457 427px,#450457 428px,#46085c 431px,#450559 433px,#46075a 437px,#450457 439px,#460a5d 441px,#481668 442px,#46075a 443px,#46085c 448px,#450457 450px,#46075a 452px,#450457 453px,#46085c 456px,#450559 457px,#450559 459px,#440256 460px,#46085c 462px,#46075a 469px,#450457 470px,#46085c 472px,#450559 473px,#46075a 474px,#440256 476px,#440154 495px)"></div><div style="top:192px;height:3px;background:linear-gradient(90deg,#440154 4px,#440256 8px,#450559 9px,#470d60 10px,#450457 11px,#440256 12px,#46075a 20px,#440256 22px,#440256 25px,#450559 26px,#440256 27px,#450559 29px,#440256 31px,#450559 33px,#450457 36px,#46075a 38px,#440256 41px,#450457 46px,#450559 52px,#440256 54px,#46075a 59px,#450457 60px,#46075a 61px,#440256 64px,#450559 66px,#450457 69px,#450559 70px,#450457 72px,#450559 74px,#440154 75px,#440256 78px,#440154 80px,#450559 82px,#450457 89px,#450559 90px,#440256 95px,#450559 97px,#440256 100px,#450559 101px,#440256 104px,#450559 109px,#450559 111px,#440256 114px,#46075a 116px,#46075a 120px,#450457 121px,#450559 125px,#440256 127px,#450457 134px,#450559 135px,#450457 136px,#450559 139px,#450457 142px,#46075a 145px,#450559 146px,#46085c 148px,#450457 153px,#46075a 155px,#450457 161px,#46075a 162px,#440154 168px,#440154 184px,#450559 185px,#481467 186px,#471164 187px,#440256 188px,#440154 194px,#440154 253px,#440256 255px,#460a5d 257px,#46085c 258px,#440256 259px,#440154 262px,#440154 336px,#46085c 338px,#440154 339px,#440256 343px,#460b5e 344px,#450457 345px,#450457 348px,#450559 350px,#440256 351px,#46075a 354px,#440256 355px,#450559 357px,#440256 360px,#450559 362px,#440256 363px,#450559 368px,#440256 369px,#450559 371px,#440256 373px,#450559 375px,#440256 376px,#450559 377px,#440256 379px,#450457 380px,#440256 381px,#450559 383px,#440256 384px,#450559 385px,#440154 391px,#450559 396px,#450559 403px,#440256 404px,#450559 407px,#440256 409px,#46075a 411px,#440256 414px,#450559 417px,#440154 422px,#450457 427px,#440256 428px,#450559 431px,#450457 433px,#450559 438px,#450559 440px,#481467 442px,#450559 443px,#450559 448px,#450559 452px,#440256 453px,#46075a 456px,#440256 457px,#450559 459px,#440256 460px,#46075a 462px,#450457 463px,#450559 468px,#440256 470px,#46075a 472px,#450559 473px,#46085c 474px,#440256 475px,#440154 480px,#440154 495px)"></div><div style="top:188px;height:4px;background:linear-gradient(90deg,#440154 4px,#450457 9px,#460a5d 10px,#450457 11px,#450559 18px,#450457 21px,#440256 25px,#450559 29px,#440256 31px,#450559 33px,#450457 36px,#450559 38px,#440256 45px,#450559 52px,#440256 54px,#450559 56px,#450559 59px,#450457 60px,#46075a 61px,#440256 64px,#450559 66px,#450559 70px,#440256 72px,#450457 74px,#440154 75px,#440154 78px,#450457 81px,#450559 82px,#440256 89px,#450559 90px,#450457 95px,#450457 99px,#440256 100px,#450559 102px,#440256 104px,#450559 110px,#440256 114px,#46075a 116px,#450559 120px,#440256 121px,#450559 124px,#440256 130px,#440256 134px,#450559 135px,#450559 140px,#450559 143px,#450559 145px,#440256 146px,#46075a 148px,#450457 150px,#450457 152px,#440256 153px,#450559 155px,#450457 156px,#450559 157px,#440256 159px,#46075a 162px,#440154 168px,#440154 184px,#450559 185px,#48186a 186px,#471365 187px,#440256 188px,#440154 193px,#440154 253px,#440256 255px,#460b5e 257px,#460a5d 258px,#440256 259px,#440154 261px,#440154 336px,#440256 337px,#46085c 338px,#440154 339px,#440256 343px,#470d60 344px,#450457 345px,#450559 350px,#440256 351px,#46085c 353px,#450457 356px,#440256 358px,#450559 362px,#440256 363px,#450559 368px,#440256 369px,#450559 375px,#440256 376px,#450559 377px,#450457 381px,#450457 383px,#440256 384px,#450457 387px,#440256 393px,#450559 396px,#450457 398px,#450559 402px,#440256 404px,#450559 406px,#440256 409px,#450559 411px,#440256 423px,#450559 431px,#450457 433px,#450559 440px,#470d60 441px,#471365 442px,#450559 443px,#46075a 447px,#450559 450px,#450457 454px,#450559 456px,#440256 457px,#450559 462px,#440256 463px,#440256 470px,#46075a 472px,#46085c 474px,#440256 475px,#440154 480px,#440154 495px)"></div><div style="top:185px;height:3px;background:linear-gradient(90deg,#440154 4px,#450457 9px,#46075a 10px,#440256 11px,#450457 18px,#450457 21px,#440256 25px,#450457 30px,#440256 31px,#450559 33px,#450457 36px,#440256 39px,#440256 46px,#450559 52px,#440256 54px,#450559 56px,#450457 60px,#46075a 62px,#450457 64px,#450559 70px,#440256 72px,#450457 74px,#440256 80px,#450457 83px,#440256 89px,#450559 90px,#450457 92px,#450559 102px,#440256 104px,#450559 110px,#440256 114px,#46075a 116px,#450559 120px,#440256 121px,#450559 124px,#440256 130px,#450457 132px,#440256 134px,#450457 136px,#46075a 139px,#450457 142px,#450559 145px,#440256 146px,#450559 148px,#440256 153px,#450559 155px,#450457 157px,#440256 159px,#450559 162px,#440154 166px,#440154 184px,#46075a 185px,#481a6c 186px,#471164 187px,#440256 188px,#440154 194px,#440154 253px,#450559 256px,#470d60 257px,#460a5d 258px,#440256 259px,#440154 261px,#440154 336px,#46085c 338px,#440154 339px,#440256 343px,#460b5e 344px,#450457 345px,#440256 351px,#46085c 353px,#440256 356px,#450559 362px,#440256 363px,#450559 367px,#440256 369px,#450457 373px,#450457 376px,#450457 378px,#440256 394px,#440256 397px,#450457 402px,#440256 404px,#450457 406px,#440256 409px,#450457 414px,#440256 423px,#450457 431px,#450457 437px,#450559 440px,#471063 441px,#471164 442px,#450457 443px,#46075a 446px,#440256 448px,#450457 453px,#450559 462px,#440256 467px,#440256 470px,#46075a 474px,#440154 476px,#440154 495px)"></div><div style="top:182px;height:3px;background:linear-gradient(90deg,#440154 4px,#450559 10px,#440256 12px,#450457 16px,#450457 18px,#450457 20px,#440256 24px,#450457 30px,#450457 32px,#450457 36px,#440256 40px,#440256 44px,#450559 49px,#450559 52px,#440256 54px,#450559 56px,#450457 60px,#46075a 62px,#440256 64px,#450559 70px,#440256 75px,#450457 85px,#450457 89px,#450457 91px,#450457 105px,#450559 110px,#440256 113px,#440256 115px,#46075a 116px,#46075a 119px,#450457 121px,#46075a 123px,#450457 126px,#450457 132px,#440256 134px,#450457 138px,#46075a 139px,#440256 142px,#450457 145px,#440256 146px,#450559 148px,#450457 153px,#450457 157px,#440256 159px,#450559 162px,#440154 166px,#440154 184px,#46075a 185px,#481a6c 186px,#440256 188px,#440154 202px,#440154 253px,#450559 256px,#470d60 257px,#450457 259px,#440154 262px,#440154 336px,#46075a 338px,#440154 339px,#440256 343px,#460a5d 344px,#450457 345px,#450457 350px,#440256 351px,#46085c 353px,#440256 357px,#450457 364px,#450457 368px,#450457 373px,#450457 378px,#450457 385px,#440256 395px,#440256 404px,#450457 413px,#440256 417px,#440256 427px,#450457 439px,#450559 440px,#471164 441px,#471063 442px,#440256 443px,#450457 445px,#46075a 446px,#440256 448px,#450559 453px,#440256 463px,#440256 470px,#46085c 474px,#440256 475px,#440154 481px,#440154 495px)"></div><div style="top:178px;height:4px;background:linear-gradient(90deg,#440154 4px,#440256 9px,#450559 10px,#440256 12px,#450457 16px,#440256 18px,#450457 20px,#440256 24px,#450457 36px,#450559 37px,#440154 40px,#450457 42px,#450457 47px,#46075a 50px,#440154 54px,#450559 56px,#450559 60px,#46075a 62px,#440256 64px,#450457 71px,#440256 77px,#450457 85px,#450457 89px,#450457 94px,#450457 106px,#450559 110px,#440256 113px,#440256 115px,#46075a 117px,#450559 120px,#450457 121px,#46075a 123px,#440256 125px,#450457 131px,#440256 137px,#46075a 139px,#440256 142px,#450457 145px,#440256 147px,#450457 151px,#450457 160px,#450559 162px,#440154 167px,#440154 184px,#46085c 185px,#481c6e 186px,#470e61 187px,#440154 188px,#440154 254px,#450559 256px,#460b5e 257px,#440154 260px,#440154 336px,#46075a 338px,#440154 339px,#440256 343px,#46075a 344px,#450457 345px,#450457 348px,#440256 351px,#46085c 353px,#440256 357px,#440256 364px,#450457 368px,#450457 373px,#450457 378px,#440256 384px,#450457 387px,#440256 403px,#450559 414px,#440256 417px,#440256 434px,#440256 439px,#450559 440px,#471365 441px,#471063 442px,#440154 443px,#450457 445px,#46075a 446px,#440256 448px,#450559 453px,#450457 455px,#450559 456px,#440256 459px,#450457 462px,#440256 470px,#450559 473px,#460a5d 474px,#450457 475px,#440154 480px,#440154 495px)"></div><div style="top:175px;height:3px;background:linear-gradient(90deg,#440154 4px,#440154 9px,#450559 10px,#440154 13px,#450457 16px,#440256 24px,#450457 36px,#450559 37px,#440154 40px,#450457 42px,#450457 48px,#46075a 50px,#440154 54px,#450457 57px,#450457 60px,#450559 62px,#440256 64px,#450457 70px,#440154 77px,#450457 85px,#440256 89px,#450457 94px,#440256 105px,#450559 110px,#440154 113px,#440256 115px,#46075a 117px,#450457 121px,#46075a 123px,#440256 125px,#440256 136px,#450457 138px,#450559 139px,#440256 142px,#440256 145px,#450457 151px,#450457 161px,#450457 163px,#440154 172px,#440154 184px,#46085c 185px,#482071 186px,#470d60 187px,#440154 188px,#440154 255px,#460a5d 257px,#440154 260px,#440154 336px,#450559 338px,#440154 339px,#440256 343px,#46085c 344px,#440256 345px,#450457 348px,#440154 351px,#46075a 353px,#440256 357px,#450457 366px,#450457 368px,#440256 372px,#450457 378px,#440256 381px,#450457 387px,#440154 401px,#440256 406px,#450457 414px,#440256 418px,#440256 439px,#450559 440px,#471365 441px,#471063 442px,#440154 443px,#450559 446px,#440154 449px,#450457 453px,#450457 455px,#450559 456px,#440256 459px,#440256 464px,#440256 470px,#450559 473px,#460a5d 474px,#450457 475px,#440154 481px,#440154 495px)"></div><div style="top:172px;height:3px;background:linear-gradient(90deg,#440154 4px,#440154 9px,#450457 10px,#440154 13px,#450457 15px,#440256 18px,#440256 26px,#450457 36px,#440256 38px,#440154 40px,#440256 43px,#440256 48px,#46075a 50px,#440154 54px,#450457 57px,#450457 60px,#450559 62px,#440256 64px,#450457 70px,#440154 77px,#450457 85px,#440256 89px,#440256 94px,#450457 106px,#450559 110px,#440154 113px,#440256 115px,#46075a 117px,#450559 120px,#440256 121px,#46075a 123px,#440256 125px,#440256 137px,#450559 139px,#440256 142px,#440256 145px,#440256 151px,#450457 161px,#440154 171px,#440154 184px,#46085c 185px,#482374 186px,#470e61 187px,#440154 188px,#440154 255px,#46075a 257px,#440154 260px,#440154 336px,#450559 338px,#440154 339px,#440256 343px,#46085c 344px,#440256 345px,#450559 347px,#440154 351px,#46075a 353px,#440256 357px,#450457 366px,#450457 368px,#440256 372px,#450457 378px,#440256 381px,#440256 387px,#440256 402px,#440256 415px,#440256 431px,#440256 439px,#450559 440px,#471365 441px,#471164 442px,#440154 443px,#450559 446px,#440154 449px,#450457 453px,#440256 455px,#450559 456px,#440154 458px,#450457 461px,#440256 469px,#450559 473px,#460a5d 474px,#440256 475px,#440154 483px,#440154 495px)"></div><div style="top:168px;height:4px;background:linear-gradient(90deg,#440154 4px,#440154 9px,#450457 10px,#440154 13px,#450457 15px,#440256 18px,#440256 32px,#450457 37px,#440154 40px,#440256 44px,#440256 48px,#46075a 50px,#440154 54px,#440256 57px,#450559 62px,#440154 64px,#450457 70px,#440154 76px,#440256 85px,#440256 89px,#440256 94px,#450457 106px,#450559 110px,#440154 114px,#46075a 117px,#450457 120px,#440256 121px,#46075a 123px,#440256 125px,#450457 138px,#450559 139px,#440256 142px,#440256 145px,#440256 160px,#450457 162px,#440154 166px,#440154 184px,#46075a 185px,#482475 186px,#471063 187px,#440154 188px,#440154 255px,#450559 257px,#440154 261px,#440154 336px,#450559 338px,#440154 339px,#440256 343px,#46085c 344px,#440256 345px,#450457 347px,#440154 351px,#450559 353px,#440154 357px,#450457 366px,#440256 368px,#440154 372px,#450457 378px,#440256 381px,#440256 387px,#440256 404px,#440256 415px,#440256 431px,#440256 439px,#450559 440px,#471164 441px,#471164 442px,#440154 443px,#450559 446px,#440154 449px,#450457 453px,#440256 455px,#450457 456px,#440256 459px,#440256 462px,#440256 470px,#450559 473px,#46085c 474px,#440256 475px,#440154 483px,#440154 495px)"></div><div style="top:165px;height:3px;background:linear-gradient(90deg,#440154 4px,#440154 9px,#450457 10px,#440154 13px,#450457 15px,#440256 18px,#440256 32px,#450457 37px,#440154 40px,#440256 48px,#46075a 50px,#440154 54px,#440256 57px,#450559 62px,#440154 64px,#450457 70px,#440154 76px,#440256 85px,#440256 89px,#440256 94px,#440256 106px,#450559 110px,#440154 114px,#450559 117px,#450457 120px,#440256 121px,#450559 123px,#440154 125px,#440256 138px,#450559 139px,#440154 142px,#440256 145px,#440256 160px,#450457 162px,#440154 166px,#440154 184px,#46075a 185px,#482475 186px,#471063 187px,#440154 188px,#440154 256px,#440256 258px,#440154 265px,#440154 336px,#450559 338px,#440154 339px,#440256 343px,#46075a 344px,#440256 345px,#450457 347px,#440154 350px,#450559 353px,#440154 357px,#450457 366px,#440256 368px,#440256 373px,#450457 378px,#440256 381px,#440256 387px,#440256 412px,#440256 415px,#440256 431px,#440256 439px,#450559 440px,#471365 441px,#471164 442px,#440154 443px,#450457 446px,#440154 449px,#450457 453px,#440256 455px,#450457 456px,#440154 459px,#440256 462px,#440256 470px,#450457 473px,#46085c 474px,#440256 475px,#440154 483px,#440154 495px)"></div><div style="top:162px;height:3px;background:linear-gradient(90deg,#440154 4px,#440154 9px,#450457 10px,#440154 13px,#450457 15px,#440256 18px,#440154 32px,#450457 37px,#440154 40px,#440256 48px,#450559 50px,#440154 54px,#440256 57px,#450559 62px,#440154 64px,#440256 71px,#440256 81px,#440256 89px,#440256 94px,#440256 106px,#450457 110px,#440154 114px,#450559 118px,#450457 120px,#440256 121px,#450559 123px,#440154 126px,#440256 138px,#450559 139px,#440154 142px,#440256 145px,#440256 160px,#450457 162px,#440154 166px,#440154 184px,#46075a 185px,#482475 186px,#471164 187px,#440154 188px,#440154 336px,#450559 338px,#440154 339px,#440256 343px,#46075a 344px,#440256 345px,#450457 347px,#440154 350px,#450559 353px,#440154 357px,#450457 366px,#440256 368px,#440256 373px,#450457 378px,#440256 381px,#440256 387px,#440256 412px,#440256 415px,#440256 431px,#440256 439px,#450559 440px,#471365 441px,#471164 442px,#440154 443px,#450457 446px,#440154 449px,#450457 453px,#440256 455px,#440256 457px,#440154 470px,#450457 473px,#46085c 474px,#440256 475px,#440154 483px,#440154 495px)"></div><div style="top:158px;height:4px;background:linear-gradient(90deg,#440154 4px,#440154 9px,#450457 10px,#440154 13px,#450457 15px,#440256 19px,#440154 32px,#450457 37px,#440154 40px,#440256 48px,#450559 50px,#440154 54px,#440256 57px,#450559 62px,#440154 64px,#440256 71px,#440256 81px,#440256 89px,#440256 94px,#440256 106px,#450457 110px,#440154 114px,#450559 118px,#450457 120px,#440256 121px,#450559 123px,#440154 126px,#440256 138px,#450457 139px,#440154 142px,#440256 145px,#440256 160px,#450457 162px,#440154 166px,#440154 184px,#46075a 185px,#482475 186px,#471164 187px,#440154 188px,#440154 336px,#450559 338px,#440154 339px,#440256 343px,#46075a 344px,#440256 345px,#450457 347px,#440154 350px,#450559 353px,#440154 357px,#440256 366px,#440256 368px,#440256 373px,#450457 378px,#440256 382px,#440256 387px,#440256 412px,#440256 415px,#440256 431px,#440256 439px,#450457 440px,#471365 441px,#471164 442px,#440154 443px,#450457 446px,#440154 449px,#450457 453px,#440256 455px,#440256 457px,#440154 470px,#450457 473px,#46085c 474px,#440256 475px,#440154 483px,#440154 495px)"></div><div style="top:155px;height:3px;background:linear-gradient(90deg,#440154 4px,#440154 9px,#450457 10px,#440154 13px,#450457 15px,#440256 19px,#440154 32px,#450457 37px,#440154 40px,#440256 48px,#450559 50px,#440154 54px,#440256 57px,#450559 62px,#440154 64px,#440256 71px,#440256 81px,#440256 89px,#440256 94px,#440256 106px,#450457 110px,#440154 114px,#450559 118px,#450457 120px,#440256 121px,#450559 123px,#440154 126px,#440256 138px,#450457 139px,#440154 142px,#440256 145px,#440256 160px,#450457 162px,#440154 166px,#440154 184px,#46075a 185px,#482475 186px,#471164 187px,#440154 188px,#440154 336px,#450559 338px,#440154 339px,#440256 343px,#46075a 344px,#440256 345px,#450457 347px,#440154 350px,#450559 354px,#440154 357px,#440256 366px,#440256 368px,#440256 376px,#450457 378px,#440256 382px,#440256 387px,#440256 412px,#440256 415px,#440256 432px,#440256 439px,#450457 440px,#471365 441px,#471164 442px,#440154 443px,#450457 446px,#440154 449px,#450457 453px,#440256 455px,#440256 457px,#440154 470px,#450457 473px,#46085c 474px,#440256 475px,#440154 483px,#440154 495px)"></div><div style="top:152px;height:3px;background:linear-gradient(90deg,#440154 4px,#440154 9px,#450457 10px,#440154 13px,#450457 15px,#440154 24px,#440256 36px,#440256 41px,#440256 48px,#450559 50px,#440154 54px,#440256 57px,#450559 62px,#440154 64px,#440256 71px,#440256 81px,#440256 89px,#440256 94px,#440256 106px,#450457 110px,#440154 114px,#450559 118px,#450457 120px,#440256 121px,#450559 123px,#440154 126px,#440256 138px,#450457 139px,#440154 142px,#440256 145px,#440256 161px,#440154 173px,#440154 184px,#46075a 185px,#482576 186px,#471164 187px,#440154 188px,#440154 336px,#450559 338px,#440154 339px,#440256 343px,#46075a 344px,#440256 345px,#450457 347px,#440154 350px,#450457 354px,#440154 357px,#440256 366px,#440256 368px,#440256 376px,#450457 378px,#440154 383px,#440256 387px,#440256 412px,#440256 415px,#440256 432px,#440256 439px,#450457 440px,#471365 441px,#471164 442px,#440154 443px,#450457 446px,#440154 449px,#450457 453px,#440256 455px,#440256 457px,#440154 470px,#450457 473px,#46085c 474px,#440256 475px,#440154 483px,#440154 495px)"></div><div style="top:148px;height:4px;background:linear-gradient(90deg,#440154 4px,#440154 9px,#450457 10px,#440154 13px,#440256 16px,#440154 32px,#440256 38px,#440256 48px,#450559 50px,#440154 54px,#440256 57px,#450559 62px,#440154 64px,#440256 71px,#440256 81px,#440256 89px,#440256 94px,#440256 108px,#440256 111px,#440154 115px,#450559 118px,#440256 121px,#450559 123px,#440154 126px,#440256 138px,#450457 139px,#440154 142px,#440256 145px,#440256 161px,#440154 174px,#440154 184px,#46075a 185px,#482576 186px,#471164 187px,#440154 188px,#440154 336px,#450559 338px,#440154 339px,#440256 343px,#46075a 344px,#440256 345px,#450457 347px,#440154 350px,#450457 354px,#440154 357px,#440256 366px,#440256 368px,#440256 376px,#450457 378px,#440154 383px,#440256 387px,#440256 412px,#440154 431px,#440256 439px,#450457 440px,#471365 441px,#471164 442px,#440154 443px,#450457 446px,#440154 449px,#450457 453px,#440256 455px,#440256 457px,#440154 470px,#450457 473px,#46085c 474px,#440256 475px,#440154 483px,#440154 495px)"></div><div style="top:145px;height:3px;background:linear-gradient(90deg,#440154 4px,#440154 9px,#450457 10px,#440154 13px,#440256 16px,#440154 32px,#440256 38px,#440256 48px,#450559 50px,#440154 54px,#440256 57px,#450559 62px,#440256 65px,#440256 71px,#440154 81px,#440256 89px,#440256 94px,#440256 108px,#440256 111px,#440154 115px,#450559 118px,#440256 121px,#450559 123px,#440154 126px,#440256 138px,#450457 139px,#440256 143px,#440256 161px,#440154 175px,#440154 184px,#46075a 185px,#482576 186px,#471164 187px,#440154 188px,#440154 336px,#450559 338px,#440154 339px,#440256 343px,#46075a 344px,#440256 345px,#440256 348px,#440154 351px,#450559 353px,#440154 357px,#440256 366px,#440256 368px,#440256 376px,#450457 378px,#440154 383px,#440256 387px,#440256 412px,#440154 431px,#440256 439px,#450457 440px,#471365 441px,#471164 442px,#440154 443px,#450457 446px,#440154 449px,#450457 453px,#440256 455px,#440256 457px,#440154 470px,#450457 473px,#46085c 474px,#440256 475px,#440154 484px,#440154 495px)"></div><div style="top:142px;height:3px;background:linear-gradient(90deg,#440154 4px,#440154 9px,#450457 10px,#440154 13px,#440256 16px,#440154 32px,#440256 38px,#440256 48px,#450559 50px,#440154 54px,#440256 57px,#450457 62px,#440256 65px,#440256 71px,#440154 81px,#440256 89px,#440256 94px,#440256 108px,#440256 111px,#440154 115px,#450457 118px,#440256 121px,#450559 123px,#440154 126px,#440256 138px,#440256 140px,#440154 159px,#450457 162px,#440154 167px,#440154 184px,#46075a 185px,#482576 186px,#471164 187px,#440154 188px,#440154 336px,#450559 338px,#440154 339px,#440256 343px,#46075a 344px,#440256 345px,#440256 348px,#440154 351px,#450559 353px,#440154 358px,#450457 367px,#440154 370px,#440256 378px,#440154 384px,#440256 387px,#440256 412px,#440154 431px,#440256 439px,#450457 440px,#471365 441px,#471164 442px,#440154 443px,#450457 446px,#440154 449px,#450457 453px,#440256 455px,#440256 457px,#440154 470px,#450457 473px,#46085c 474px,#440256 475px,#440154 484px,#440154 495px)"></div><div style="top:138px;height:4px;background:linear-gradient(90deg,#440154 4px,#440154 9px,#450457 10px,#440154 13px,#440256 16px,#440154 35px,#440256 38px,#440256 48px,#450559 50px,#440154 54px,#440256 57px,#450457 62px,#440256 65px,#440256 71px,#440154 81px,#440256 89px,#440256 94px,#440256 108px,#440256 111px,#440154 115px,#450457 118px,#440256 121px,#450559 123px,#440154 126px,#440256 138px,#440256 140px,#440154 160px,#440256 163px,#440154 184px,#46075a 185px,#482576 186px,#471164 187px,#440154 188px,#440154 336px,#450559 338px,#440154 339px,#440256 343px,#46075a 344px,#440256 345px,#440256 348px,#440154 351px,#450457 354px,#440154 357px,#450457 367px,#440154 370px,#440256 378px,#440154 384px,#440256 387px,#440256 412px,#440256 432px,#440256 439px,#450457 440px,#471365 441px,#471164 442px,#440154 443px,#450457 446px,#440154 449px,#440256 453px,#440256 455px,#440256 457px,#440154 470px,#450457 473px,#46085c 474px,#440256 475px,#440154 484px,#440154 495px)"></div><div style="top:135px;height:3px;background:linear-gradient(90deg,#440154 4px,#440154 9px,#450457 10px,#440154 13px,#440256 16px,#440256 36px,#440256 48px,#450559 50px,#440256 55px,#450457 62px,#440154 65px,#440256 71px,#440256 89px,#440256 108px,#440256 111px,#440154 115px,#450457 118px,#440154 121px,#450457 123px,#440154 126px,#440256 138px,#440256 140px,#440154 160px,#440256 163px,#440154 184px,#46075a 185px,#482576 186px,#471164 187px,#440154 188px,#440154 336px,#450559 338px,#440154 339px,#440256 343px,#46075a 344px,#440256 345px,#440256 348px,#440154 351px,#450457 354px,#440154 358px,#440256 368px,#440154 379px,#440154 387px,#440256 413px,#440154 430px,#440256 439px,#450457 440px,#471164 441px,#471164 442px,#440154 443px,#440256 447px,#440256 457px,#440154 470px,#450457 473px,#46085c 474px,#440256 475px,#440154 486px,#440154 495px)"></div><div style="top:132px;height:3px;background:linear-gradient(90deg,#440154 4px,#440154 9px,#450457 10px,#440154 13px,#440256 16px,#440256 36px,#440154 48px,#450457 50px,#440256 55px,#450457 62px,#440154 65px,#440256 71px,#440256 89px,#440256 108px,#440256 111px,#440154 115px,#450457 119px,#440154 121px,#450457 123px,#440154 126px,#440256 138px,#440256 140px,#440154 160px,#440256 163px,#440154 184px,#46075a 185px,#482475 186px,#471164 187px,#440154 188px,#440154 336px,#450559 338px,#440154 339px,#440256 343px,#46075a 344px,#440154 345px,#440256 348px,#440256 352px,#450457 354px,#440154 358px,#440256 368px,#440154 379px,#440154 387px,#440256 413px,#440154 431px,#440256 439px,#450457 440px,#471164 441px,#471164 442px,#440154 443px,#440256 447px,#440256 457px,#440154 470px,#450457 473px,#46085c 474px,#440256 475px,#440154 487px,#440154 495px)"></div><div style="top:128px;height:4px;background:linear-gradient(90deg,#440154 4px,#440154 9px,#450457 10px,#440154 13px,#440256 16px,#440256 36px,#440154 48px,#450457 50px,#440154 55px,#450457 62px,#440154 65px,#440256 71px,#440256 89px,#440256 108px,#440256 111px,#440154 115px,#450457 119px,#440154 121px,#450457 123px,#440154 126px,#440256 138px,#440256 140px,#440154 160px,#440256 163px,#440154 184px,#46075a 185px,#482374 186px,#471063 187px,#440154 188px,#440154 336px,#450559 338px,#440154 339px,#440256 343px,#450559 344px,#440154 345px,#440256 348px,#440256 352px,#450457 354px,#440154 358px,#440256 368px,#440154 379px,#440154 387px,#440154 415px,#440256 439px,#450457 440px,#471164 441px,#471063 442px,#440154 443px,#440256 447px,#440256 457px,#440256 471px,#450457 473px,#46085c 474px,#440256 475px,#440154 489px,#440154 495px)"></div><div style="top:125px;height:3px;background:linear-gradient(90deg,#440154 4px,#440154 9px,#450457 10px,#440154 13px,#440256 16px,#440256 36px,#440256 49px,#440154 55px,#450457 62px,#440154 65px,#440154 73px,#440154 96px,#440256 111px,#440154 115px,#450457 119px,#440154 121px,#450457 123px,#440154 126px,#440256 138px,#440256 140px,#440256 161px,#440154 184px,#450559 185px,#482173 186px,#470e61 187px,#440154 188px,#440154 336px,#450559 338px,#440154 339px,#440256 343px,#450559 344px,#440154 345px,#440256 348px,#440256 352px,#450457 354px,#440154 359px,#440256 368px,#440154 416px,#440256 439px,#450457 440px,#471164 441px,#471063 442px,#440154 443px,#440256 447px,#440154 457px,#440256 471px,#450457 473px,#46085c 474px,#440256 475px,#440154 492px,#440154 495px)"></div><div style="top:121px;height:4px;background:linear-gradient(90deg,#440154 4px,#440154 9px,#450457 10px,#440154 13px,#440256 16px,#440154 38px,#440256 49px,#440154 55px,#450457 62px,#440154 65px,#440154 73px,#440154 97px,#440256 111px,#440154 115px,#450457 119px,#440154 121px,#450457 123px,#440154 127px,#440256 138px,#440154 163px,#440154 184px,#450559 185px,#481d6f 186px,#470d60 187px,#440154 188px,#440154 336px,#450559 338px,#440154 339px,#440256 343px,#450559 344px,#440154 345px,#440256 348px,#440256 352px,#440256 354px,#440154 359px,#440256 368px,#440154 416px,#440154 439px,#440256 440px,#471063 441px,#471063 442px,#440154 443px,#440256 447px,#440256 471px,#450457 473px,#46085c 474px,#440256 475px,#440154 495px)"></div><div style="top:118px;height:3px;background:linear-gradient(90deg,#440154 4px,#440154 9px,#440256 10px,#440154 14px,#440154 38px,#440256 49px,#440154 55px,#440256 63px,#440256 108px,#440154 115px,#450457 119px,#440154 121px,#450457 123px,#440154 127px,#440256 138px,#440154 163px,#440154 184px,#450457 185px,#481b6d 186px,#460b5e 187px,#440154 188px,#440154 336px,#450559 338px,#440154 339px,#440154 343px,#450559 344px,#440154 345px,#440256 352px,#440154 355px,#440154 368px,#440154 439px,#440256 440px,#471063 441px,#471063 442px,#440154 443px,#440154 447px,#440256 471px,#450457 473px,#46085c 474px,#440256 475px,#440154 495px)"></div><div style="top:115px;height:3px;background:linear-gradient(90deg,#440154 4px,#440154 9px,#440256 10px,#440154 14px,#440154 48px,#450457 50px,#440154 55px,#440256 63px,#440256 108px,#440154 115px,#450457 119px,#440256 122px,#440154 138px,#440154 163px,#440154 184px,#450457 185px,#481769 186px,#460a5d 187px,#440154 188px,#440154 336px,#450559 338px,#440154 339px,#440154 343px,#450559 344px,#440154 345px,#440256 352px,#440154 355px,#440154 368px,#440154 439px,#440256 440px,#471063 441px,#471063 442px,#440154 443px,#440154 447px,#440256 471px,#450457 473px,#46085c 474px,#440256 475px,#440154 495px)"></div><div style="top:111px;height:4px;background:linear-gradient(90deg,#440154 4px,#440154 9px,#440256 10px,#440154 14px,#440154 48px,#440256 51px,#440256 60px,#440256 63px,#440256 108px,#440154 115px,#450457 119px,#440256 122px,#440154 138px,#440154 163px,#440154 184px,#440256 185px,#481668 186px,#46085c 187px,#440154 188px,#440154 336px,#450559 338px,#440154 339px,#440154 343px,#450559 344px,#440154 345px,#440256 352px,#440154 355px,#440154 368px,#440154 439px,#440256 440px,#471063 441px,#471063 442px,#440154 443px,#440154 447px,#440256 471px,#450457 473px,#46085c 474px,#440256 475px,#440154 495px)"></div><div style="top:108px;height:3px;background:linear-gradient(90deg,#440154 4px,#440154 9px,#440256 10px,#440154 14px,#440154 48px,#440256 51px,#440256 60px,#440256 63px,#440256 109px,#440154 115px,#450457 119px,#440256 122px,#440154 138px,#440154 163px,#440154 184px,#440256 185px,#481467 186px,#46085c 187px,#440154 188px,#440154 336px,#450559 338px,#440154 339px,#440154 343px,#450559 344px,#440154 345px,#440256 352px,#440154 355px,#440154 368px,#440154 439px,#440256 440px,#471063 441px,#471063 442px,#440154 443px,#440154 447px,#440256 471px,#450457 473px,#46085c 474px,#440256 475px,#440154 495px)"></div><div style="top:105px;height:3px;background:linear-gradient(90deg,#440154 4px,#440154 9px,#440256 10px,#440154 14px,#440154 48px,#440256 51px,#440256 60px,#440256 63px,#440256 109px,#440154 115px,#450457 119px,#440256 122px,#440154 138px,#440154 163px,#440154 184px,#440256 185px,#471365 186px,#46075a 187px,#440154 188px,#440154 336px,#450559 338px,#440154 339px,#440154 343px,#450559 344px,#440154 345px,#440256 352px,#440154 355px,#440154 368px,#440154 439px,#440256 440px,#471063 441px,#470e61 442px,#440154 443px,#440154 447px,#440256 471px,#450457 473px,#46085c 474px,#440256 475px,#440154 495px)"></div><div style="top:101px;height:4px;background:linear-gradient(90deg,#440154 4px,#440154 9px,#440256 10px,#440154 14px,#440154 48px,#440256 51px,#440256 60px,#440256 63px,#440256 109px,#440154 115px,#450457 119px,#440256 122px,#440154 138px,#440154 163px,#440154 184px,#440256 185px,#471365 186px,#46075a 187px,#440154 188px,#440154 336px,#450559 338px,#440154 339px,#440154 343px,#450559 344px,#440154 345px,#440256 352px,#440154 355px,#440154 368px,#440154 439px,#440256 440px,#470e61 441px,#470e61 442px,#440154 443px,#440154 447px,#440256 471px,#450457 473px,#46085c 474px,#440256 475px,#440154 495px)"></div><div style="top:98px;height:3px;background:linear-gradient(90deg,#440154 4px,#440154 9px,#440256 10px,#440154 13px,#440154 22px,#440256 49px,#440154 59px,#440256 63px,#440256 109px,#440154 115px,#450457 119px,#440256 122px,#440154 138px,#440154 163px,#440154 184px,#440256 185px,#471365 186px,#46075a 187px,#440154 188px,#440154 336px,#450559 338px,#440154 339px,#440154 343px,#450559 344px,#440154 345px,#440256 352px,#440154 355px,#440154 368px,#440154 439px,#440256 440px,#470e61 441px,#470d60 442px,#440154 443px,#440154 447px,#440256 471px,#450457 473px,#46085c 474px,#440256 475px,#440154 495px)"></div><div style="top:95px;height:3px;background:linear-gradient(90deg,#440154 4px,#440154 9px,#450457 10px,#440154 13px,#440154 22px,#440256 49px,#440154 59px,#440256 63px,#440256 109px,#440154 115px,#450457 119px,#440256 122px,#440154 138px,#440154 163px,#440154 184px,#440256 185px,#471365 186px,#46075a 187px,#440154 188px,#440154 336px,#450559 338px,#440154 339px,#440154 343px,#450559 344px,#440154 345px,#440256 352px,#440154 355px,#440154 368px,#440154 439px,#440256 440px,#470d60 441px,#460b5e 442px,#440154 443px,#440154 447px,#440256 471px,#450457 473px,#46085c 474px,#440256 475px,#440154 495px)"></div><div style="top:91px;height:4px;background:linear-gradient(90deg,#440154 4px,#440154 9px,#450457 10px,#440154 13px,#440154 22px,#440256 49px,#440256 60px,#440256 63px,#440256 109px,#440154 115px,#450457 119px,#440256 122px,#440154 138px,#440154 163px,#440154 184px,#440256 185px,#471365 186px,#46075a 187px,#440154 188px,#440154 336px,#450559 338px,#440154 339px,#440154 343px,#450559 344px,#440154 345px,#440256 352px,#440154 355px,#440154 368px,#440154 439px,#440256 440px,#460a5d 441px,#460a5d 442px,#440154 443px,#440154 447px,#440256 471px,#450457 473px,#46085c 474px,#440256 475px,#440154 495px)"></div><div style="top:88px;height:3px;background:linear-gradient(90deg,#440154 4px,#440154 9px,#450457 10px,#440154 13px,#440256 49px,#440256 60px,#440256 63px,#440256 109px,#440154 115px,#450457 119px,#440256 122px,#440154 138px,#440154 163px,#440154 184px,#440256 185px,#471365 186px,#46075a 187px,#440154 188px,#440154 336px,#450559 338px,#440154 339px,#440154 343px,#450559 344px,#440154 345px,#440256 352px,#440154 355px,#440154 368px,#440154 439px,#440256 440px,#46085c 441px,#46075a 442px,#440154 443px,#440154 447px,#440256 472px,#46085c 474px,#440256 475px,#440154 495px)"></div><div style="top:85px;height:3px;background:linear-gradient(90deg,#440154 4px,#440154 9px,#450457 10px,#440154 13px,#440256 49px,#440256 60px,#440256 63px,#440256 109px,#440154 115px,#450457 119px,#440256 122px,#440154 138px,#440154 163px,#440154 184px,#440256 185px,#471365 186px,#46075a 187px,#440154 188px,#440154 336px,#450559 338px,#440154 339px,#440154 343px,#450559 344px,#440154 345px,#440256 352px,#440154 355px,#440154 368px,#440154 439px,#46075a 441px,#450559 442px,#440154 443px,#440154 447px,#440256 472px,#46085c 474px,#440256 475px,#440154 495px)"></div><div style="top:81px;height:4px;background:linear-gradient(90deg,#440154 4px,#440154 9px,#450457 10px,#440154 13px,#440154 22px,#440256 49px,#440256 60px,#440256 63px,#440256 109px,#440154 115px,#450457 119px,#440256 122px,#440154 138px,#440154 163px,#440154 184px,#440256 185px,#471365 186px,#46075a 187px,#440154 188px,#440154 336px,#450559 338px,#440154 339px,#440154 343px,#450559 344px,#440154 345px,#440256 352px,#440154 355px,#440154 368px,#440154 439px,#450559 441px,#440154 444px,#440154 447px,#440256 471px,#450457 473px,#46085c 474px,#440256 475px,#440154 495px)"></div><div style="top:78px;height:3px;background:linear-gradient(90deg,#440154 4px,#440154 9px,#450457 10px,#440154 13px,#440154 22px,#440256 49px,#440256 60px,#440256 63px,#440256 109px,#440154 115px,#450457 119px,#440256 122px,#440154 138px,#440154 163px,#440154 184px,#440256 185px,#471365 186px,#46075a 187px,#440154 188px,#440154 336px,#450559 338px,#440154 339px,#440154 343px,#450559 344px,#440154 345px,#440256 352px,#440154 355px,#440154 368px,#440154 439px,#450457 441px,#440154 444px,#440154 447px,#440256 471px,#450457 473px,#46085c 474px,#440256 475px,#440154 495px)"></div><div style="top:75px;height:3px;background:linear-gradient(90deg,#440154 4px,#440154 9px,#450457 10px,#440154 13px,#440154 22px,#440256 49px,#440154 59px,#440256 63px,#440256 109px,#440154 115px,#450457 119px,#440256 122px,#440154 138px,#440154 163px,#440154 184px,#440256 185px,#481467 186px,#46085c 187px,#440154 188px,#440154 336px,#46075a 338px,#440154 339px,#440154 343px,#450457 344px,#440154 345px,#440256 352px,#440154 355px,#440154 368px,#440154 439px,#450457 441px,#440154 444px,#440154 447px,#440256 471px,#450457 473px,#46085c 474px,#440256 475px,#440154 495px)"></div><div style="top:71px;height:4px;background:linear-gradient(90deg,#440154 4px,#440154 9px,#450457 10px,#440154 13px,#440154 22px,#440256 49px,#440154 59px,#440256 63px,#440256 109px,#440154 115px,#450457 119px,#440256 122px,#440154 138px,#440154 163px,#440154 184px,#440256 185px,#481467 186px,#46085c 187px,#440154 188px,#440154 336px,#46075a 338px,#440154 339px,#440154 343px,#450457 344px,#440154 346px,#440256 352px,#440154 355px,#440154 368px,#440154 439px,#450457 441px,#440154 444px,#440154 447px,#440256 471px,#450457 473px,#46085c 474px,#440256 475px,#440154 493px,#440154 495px)"></div><div style="top:68px;height:3px;background:linear-gradient(90deg,#440154 4px,#440154 9px,#450457 10px,#440154 13px,#440154 22px,#440256 49px,#440154 59px,#440256 63px,#440256 109px,#440154 115px,#450457 119px,#440256 122px,#440154 138px,#440154 163px,#440154 184px,#440256 185px,#481467 186px,#46085c 187px,#440154 188px,#440154 336px,#46075a 338px,#440154 339px,#440154 348px,#440256 352px,#440154 355px,#440154 368px,#440154 439px,#450457 441px,#440154 444px,#440154 447px,#440256 471px,#450457 473px,#46085c 474px,#440256 475px,#440154 491px,#440154 495px)"></div><div style="top:65px;height:3px;background:linear-gradient(90deg,#440154 4px,#440154 9px,#450457 10px,#440154 13px,#440154 22px,#440256 49px,#440154 59px,#440256 63px,#440256 109px,#440154 115px,#450457 119px,#440256 122px,#440154 138px,#440154 163px,#440154 184px,#440256 185px,#481467 186px,#46085c 187px,#440154 188px,#440154 336px,#46075a 338px,#440154 339px,#440154 348px,#440256 352px,#440154 355px,#440154 368px,#440154 439px,#450457 441px,#440154 444px,#440154 447px,#440256 471px,#450457 473px,#46085c 474px,#440256 475px,#440154 490px,#440154 495px)"></div><div style="top:61px;height:4px;background:linear-gradient(90deg,#440154 4px,#440154 9px,#450457 10px,#440154 13px,#440154 22px,#440256 49px,#440154 59px,#440256 63px,#440256 109px,#440154 115px,#450457 119px,#440256 122px,#440154 138px,#440154 163px,#440154 184px,#440256 185px,#481668 186px,#46085c 187px,#440154 188px,#440154 336px,#46075a 338px,#440154 339px,#440154 348px,#440256 352px,#440154 355px,#440154 368px,#440154 439px,#450457 441px,#440154 444px,#440154 447px,#440256 471px,#450457 473px,#46085c 474px,#440256 475px,#440154 489px,#440154 495px)"></div><div style="top:58px;height:3px;background:linear-gradient(90deg,#440154 4px,#440154 9px,#450457 10px,#440154 13px,#440154 22px,#440256 49px,#440154 59px,#440256 63px,#440256 109px,#440154 115px,#450457 119px,#440256 122px,#440154 138px,#440154 163px,#440154 184px,#440256 185px,#481668 186px,#46085c 187px,#440154 188px,#440154 336px,#46075a 338px,#440154 339px,#440154 348px,#440256 352px,#440154 355px,#440154 368px,#440154 439px,#450457 441px,#440154 444px,#440154 447px,#440256 471px,#450457 473px,#460a5d 474px,#440256 475px,#440154 488px,#440154 495px)"></div><div style="top:55px;height:3px;background:linear-gradient(90deg,#440154 4px,#440154 9px,#450457 10px,#440154 13px,#440154 22px,#440256 49px,#440154 59px,#440256 63px,#440256 109px,#440154 115px,#450457 119px,#440256 122px,#440154 138px,#440154 163px,#440154 184px,#440256 185px,#481668 186px,#46085c 187px,#440154 188px,#440154 336px,#46075a 338px,#440154 339px,#440154 348px,#440256 352px,#440154 355px,#440154 368px,#440154 439px,#450457 441px,#440154 444px,#440154 447px,#440256 471px,#450457 473px,#460a5d 474px,#440256 475px,#440154 488px,#440154 495px)"></div><div style="top:51px;height:4px;background:linear-gradient(90deg,#440154 4px,#440154 9px,#450457 10px,#440154 13px,#440154 22px,#440256 49px,#440154 59px,#440256 63px,#440256 109px,#440154 115px,#450457 119px,#440256 122px,#440154 138px,#440154 163px,#440154 184px,#440256 185px,#481668 186px,#46085c 187px,#440154 188px,#440154 336px,#46075a 338px,#440154 339px,#440154 348px,#440256 352px,#440154 355px,#440154 368px,#440154 439px,#450457 441px,#440154 444px,#440154 447px,#440256 471px,#450457 473px,#460a5d 474px,#440256 475px,#440154 488px,#440154 495px)"></div><div style="top:48px;height:3px;background:linear-gradient(90deg,#440154 4px,#440154 9px,#450457 10px,#440154 13px,#440256 49px,#440256 60px,#440256 63px,#440256 109px,#440154 115px,#450457 119px,#440256 122px,#440154 138px,#440154 163px,#440154 184px,#440256 185px,#481668 186px,#46085c 187px,#440154 188px,#440154 336px,#46075a 338px,#440154 339px,#440154 348px,#440256 352px,#440154 355px,#440154 368px,#440154 439px,#450457 441px,#440154 444px,#440154 447px,#440256 471px,#450457 473px,#460a5d 474px,#440256 475px,#440154 488px,#440154 495px)"></div><div style="top:45px;height:3px;background:linear-gradient(90deg,#440154 4px,#440154 9px,#450457 10px,#440154 13px,#440256 49px,#440256 60px,#440256 63px,#440256 109px,#440154 115px,#450457 119px,#440256 122px,#440154 138px,#440154 163px,#440154 184px,#440256 185px,#481668 186px,#46085c 187px,#440154 188px,#440154 336px,#46075a 338px,#440154 339px,#440154 348px,#440256 352px,#440154 355px,#440154 368px,#440154 439px,#450457 441px,#440154 444px,#440154 447px,#440256 472px,#450457 473px,#460a5d 474px,#440256 475px,#440154 488px,#440154 495px)"></div><div style="top:41px;height:4px;background:linear-gradient(90deg,#440154 4px,#440154 9px,#450457 10px,#440154 13px,#440256 49px,#440256 60px,#440256 63px,#440256 109px,#440154 115px,#450457 119px,#440256 122px,#440154 138px,#440154 163px,#440154 184px,#440256 185px,#481668 186px,#46085c 187px,#440154 188px,#440154 336px,#46075a 338px,#440154 339px,#440154 348px,#440256 352px,#440154 355px,#440154 368px,#440154 439px,#450457 441px,#440154 444px,#440154 447px,#440256 472px,#450457 473px,#460a5d 474px,#440256 475px,#440154 488px,#440154 495px)"></div><div style="top:38px;height:3px;background:linear-gradient(90deg,#440154 4px,#440154 9px,#450457 10px,#440154 13px,#440256 49px,#440256 60px,#440154 63px,#440256 109px,#440154 115px,#450457 119px,#440256 122px,#440154 138px,#440154 163px,#440154 184px,#440256 185px,#481668 186px,#46085c 187px,#440154 188px,#440154 336px,#46075a 338px,#440154 339px,#440154 348px,#440256 352px,#440154 368px,#440154 439px,#450457 441px,#440154 444px,#440154 447px,#440256 472px,#450457 473px,#460a5d 474px,#440256 475px,#440154 488px,#440154 495px)"></div><div style="top:35px;height:3px;background:linear-gradient(90deg,#440154 4px,#440154 9px,#450457 10px,#440154 13px,#440256 49px,#440256 60px,#440154 63px,#440256 109px,#440154 115px,#440256 119px,#440256 122px,#440154 138px,#440154 163px,#440154 184px,#440256 185px,#481769 186px,#46085c 187px,#440154 188px,#440154 336px,#46075a 338px,#440154 339px,#440154 348px,#440154 352px,#440154 368px,#440154 439px,#450457 441px,#440154 444px,#440154 447px,#440256 472px,#450457 473px,#460a5d 474px,#440256 475px,#440154 487px,#440154 495px)"></div><div style="top:31px;height:4px;background:linear-gradient(90deg,#440154 4px,#440154 9px,#450457 10px,#440154 13px,#440256 49px,#440256 60px,#440154 63px,#440256 109px,#440154 115px,#440256 119px,#440256 122px,#440154 138px,#440154 164px,#440154 184px,#440256 185px,#481769 186px,#46085c 187px,#440154 188px,#440154 336px,#46075a 338px,#440154 339px,#440154 348px,#440154 352px,#440154 368px,#440154 439px,#450457 441px,#440154 444px,#440154 447px,#440256 472px,#450457 473px,#460a5d 474px,#440256 475px,#440154 487px,#440154 495px)"></div><div style="top:28px;height:3px;background:linear-gradient(90deg,#440154 4px,#440154 9px,#450457 10px,#440154 13px,#440256 49px,#440256 60px,#440154 63px,#440154 111px,#440256 116px,#440256 122px,#440154 138px,#440154 164px,#440154 184px,#440256 185px,#481769 186px,#46085c 187px,#440154 188px,#440154 336px,#46075a 338px,#440154 339px,#440154 348px,#440154 352px,#440154 368px,#440154 439px,#450457 441px,#440154 444px,#440154 447px,#440256 472px,#450457 473px,#460a5d 474px,#440256 475px,#440154 488px,#440154 495px)"></div><div style="top:25px;height:3px;background:linear-gradient(90deg,#440154 4px,#440154 9px,#450457 10px,#440154 13px,#440256 49px,#440154 60px,#440154 63px,#440154 111px,#440256 116px,#440256 122px,#440154 138px,#440154 164px,#440154 184px,#440256 185px,#481769 186px,#46085c 187px,#440154 188px,#440154 336px,#46075a 338px,#440154 339px,#440154 348px,#440154 352px,#440154 368px,#440154 439px,#450457 441px,#440154 444px,#440154 447px,#440256 472px,#450457 473px,#460a5d 474px,#440256 475px,#440154 488px,#440154 495px)"></div><div style="top:21px;height:4px;background:linear-gradient(90deg,#440154 4px,#440154 9px,#450457 10px,#440154 13px,#440256 49px,#440154 60px,#440154 63px,#440154 111px,#440256 116px,#440256 122px,#440154 138px,#440154 184px,#440256 185px,#481769 186px,#46085c 187px,#440154 188px,#440154 336px,#46075a 338px,#440154 339px,#440154 348px,#440154 352px,#440154 368px,#440154 439px,#440256 441px,#440154 444px,#440154 447px,#440256 472px,#450457 473px,#460a5d 474px,#440256 475px,#440154 489px,#440154 495px)"></div><div style="top:18px;height:3px;background:linear-gradient(90deg,#440154 4px,#440154 9px,#450457 10px,#440154 13px,#440256 49px,#440154 60px,#440154 111px,#440256 116px,#440256 122px,#440154 138px,#440154 184px,#440256 185px,#481668 186px,#46085c 187px,#440154 188px,#440154 336px,#46075a 338px,#440154 339px,#440154 348px,#440154 352px,#440154 439px,#440256 442px,#440256 472px,#460a5d 474px,#440256 475px,#440154 489px,#440154 495px)"></div><div style="top:15px;height:3px;background:linear-gradient(90deg,#440154 4px,#440154 9px,#450457 10px,#440154 13px,#440256 49px,#440154 60px,#440154 112px,#440256 120px,#440256 124px,#440154 138px,#440154 184px,#440256 185px,#481668 186px,#46085c 187px,#440154 188px,#440154 336px,#46075a 338px,#440154 339px,#440154 349px,#440256 354px,#440154 365px,#440154 439px,#440256 442px,#440256 472px,#460a5d 474px,#440256 475px,#440154 491px,#440154 495px)"></div><div style="top:11px;height:4px;background:linear-gradient(90deg,#440154 4px,#440154 9px,#450457 10px,#440154 13px,#440256 49px,#440154 60px,#440154 112px,#440256 120px,#440154 138px,#440154 184px,#440256 185px,#481668 186px,#46085c 187px,#440154 188px,#440154 336px,#46075a 338px,#440154 339px,#440154 352px,#440154 439px,#440154 442px,#440256 472px,#46085c 474px,#440256 475px,#440154 494px,#440154 495px)"></div><div style="top:8px;height:3px;background:linear-gradient(90deg,#440154 4px,#440154 9px,#450457 10px,#440154 13px,#440256 49px,#440154 60px,#440154 112px,#440256 120px,#440154 138px,#440154 184px,#440256 185px,#481467 186px,#46085c 187px,#440154 188px,#440154 336px,#46075a 338px,#440154 339px,#440154 352px,#440154 439px,#440154 442px,#440256 472px,#46085c 474px,#440256 475px,#440154 495px)"></div><div style="top:0px;height:8px;background:linear-gradient(90deg,#440154 4px,#440154 9px,#440256 10px,#440154 14px,#440256 49px,#440154 60px,#440256 116px,#440256 124px,#440154 184px,#440256 185px,#471164 186px,#46075a 187px,#440154 188px,#440154 336px,#450559 338px,#440154 339px,#440154 352px,#440154 439px,#440154 442px,#440256 472px,#46085c 474px,#440256 475px,#440154 495px)"></div></div></div>
<svg width="702" height="501" viewBox="0 0 702 501" style="position:absolute;left:0;top:0">
<defs><clipPath id="ctop"><rect x="70.5" y="25.3" width="492.0" height="100.1"/></clipPath></defs>
<g clip-path="url(#ctop)"><polyline points="70.5,51.3 70.6,90.3 71.0,87.1 71.4,87.8 71.7,87.8 71.8,87.1 72.2,87.1 72.5,87.7 72.5,87.5 72.8,87.0 73.1,58.8 73.5,93.3 73.5,86.9 73.9,87.6 74.4,86.9 74.4,87.8 74.6,87.6 74.7,86.8 75.0,87.0 75.4,88.1 75.6,87.0 75.7,87.6 76.1,87.5 76.2,87.0 76.6,86.9 77.0,87.8 77.1,40.8 77.4,99.3 77.6,87.5 77.6,86.9 78.4,87.0 78.5,87.7 78.6,86.8 79.0,87.5 79.0,87.6 79.2,86.3 79.8,87.2 80.0,86.3 80.0,86.5 80.2,87.6 80.6,87.4 80.9,86.0 81.1,85.7 81.5,87.4 81.7,85.4 81.8,87.5 82.2,86.5 82.5,88.8 82.7,88.0 82.9,90.6 83.0,88.8 83.2,91.1 83.6,89.5 84.0,91.4 84.3,92.3 84.5,90.2 84.8,92.1 85.0,88.6 85.2,90.3 85.4,87.6 85.6,89.2 85.8,87.4 86.2,85.9 86.4,87.5 86.6,84.7 86.7,87.6 87.0,86.0 87.4,82.0 87.6,85.1 88.0,82.3 88.0,81.4 88.4,84.0 88.7,86.4 88.9,82.6 89.3,83.9 89.5,86.9 89.6,88.2 90.0,86.1 90.0,86.0 90.3,88.6 90.6,87.1 90.8,88.6 91.1,88.6 91.3,85.3 91.5,87.3 92.0,92.7 92.1,91.5 92.4,95.9 92.7,92.6 92.9,96.4 93.0,95.7 93.5,90.9 93.5,90.3 94.0,86.3 94.2,86.2 94.5,83.9 94.5,83.5 94.9,79.0 95.2,83.2 95.3,81.6 95.8,82.8 95.9,84.6 96.1,82.2 96.2,85.6 96.5,85.7 97.0,83.6 97.3,83.4 97.5,87.2 97.5,85.2 98.0,88.1 98.1,88.4 98.5,92.5 98.6,93.1 98.9,91.4 99.1,93.9 99.4,89.8 99.5,90.4 99.8,86.4 100.2,88.6 100.4,84.7 100.8,85.7 100.8,86.5 101.1,85.0 101.4,88.9 101.6,86.1 101.8,89.7 102.3,87.7 102.5,90.3 102.8,89.6 102.9,91.7 103.1,87.1 103.3,88.9 103.7,86.9 103.8,87.9 104.0,87.0 104.2,84.2 104.5,84.9 105.0,81.3 105.3,79.5 105.4,82.2 105.5,80.0 105.7,84.1 106.0,82.8 106.5,87.9 106.6,85.5 106.8,90.4 107.0,90.2 107.1,94.8 107.5,92.3 107.9,94.4 108.0,93.8 108.3,88.0 108.5,89.7 109.0,86.9 109.0,86.0 109.5,91.0 109.7,87.1 109.9,92.2 110.3,91.4 110.4,89.8 110.6,91.0 111.0,87.3 111.1,87.0 111.4,82.8 111.6,83.4 112.0,78.5 112.1,75.9 112.3,82.1 112.5,79.2 113.0,86.0 113.1,85.8 113.3,87.7 113.5,88.0 113.7,90.6 114.3,88.0 114.5,89.8 114.5,90.1 115.0,86.2 115.2,87.6 115.5,85.4 115.5,86.8 115.7,91.9 116.1,90.2 116.3,92.3 116.9,92.8 117.0,90.3 117.3,89.6 117.5,85.2 117.7,88.3 117.9,83.6 118.1,86.8 118.3,81.9 118.6,83.4 119.0,88.1 119.2,87.4 119.5,91.0 119.6,91.7 120.0,89.2 120.1,90.1 120.3,87.0 120.5,87.3 121.0,83.7 121.0,84.5 121.3,82.3 121.6,80.7 122.0,82.8 122.2,82.2 122.4,84.5 122.6,82.6 122.9,88.4 123.1,86.2 123.3,89.5 123.7,87.6 124.0,90.3 124.0,90.7 124.2,93.5 124.6,94.0 124.9,89.9 125.2,88.4 125.4,91.5 125.7,91.5 125.8,87.9 126.0,90.7 126.3,87.2 126.7,88.5 126.9,86.5 127.0,88.3 127.2,85.5 127.5,86.8 128.0,82.6 128.2,83.3 128.3,79.6 128.6,80.5 129.0,84.2 129.3,83.7 129.5,90.1 129.7,89.1 130.0,92.3 130.3,92.3 130.4,94.3 130.6,92.7 131.0,88.2 131.2,89.5 131.4,83.5 131.5,85.3 131.7,80.9 132.2,81.2 132.4,87.5 132.6,88.3 132.8,86.7 133.0,88.7 133.2,90.0 133.7,91.6 133.9,88.2 134.1,89.5 134.3,85.2 134.7,81.7 134.8,86.3 135.4,84.6 135.5,87.5 135.5,87.8 135.9,91.7 136.0,91.9 136.3,89.2 136.7,90.7 136.9,84.8 137.1,86.2 137.5,85.0 137.6,86.2 137.9,84.2 138.3,85.3 138.5,89.5 138.6,88.3 138.8,92.0 139.1,91.3 139.4,88.6 139.5,88.4 140.0,85.8 140.3,87.0 140.5,82.5 140.5,82.0 141.0,87.9 141.1,87.1 141.5,89.7 141.7,89.7 142.0,86.1 142.2,87.8 142.5,82.6 142.6,84.9 142.9,79.8 143.1,79.9 143.3,83.4 143.6,81.9 144.0,88.0 144.0,88.6 144.5,94.7 144.6,93.7 144.9,96.6 145.0,94.4 145.1,92.1 145.6,92.5 146.0,85.7 146.2,87.0 146.4,83.1 146.7,87.9 146.9,85.6 147.2,85.6 147.5,88.9 147.7,90.8 147.9,86.9 148.1,88.4 148.4,84.0 148.7,88.7 148.8,84.3 149.2,86.2 149.5,83.5 149.5,82.8 149.7,85.0 150.0,84.9 150.2,81.5 150.7,86.5 150.9,83.4 151.1,82.8 151.4,87.9 151.6,85.9 152.0,90.8 152.0,90.8 152.2,93.6 152.5,92.9 152.7,96.0 153.0,94.0 153.2,88.4 153.5,90.0 154.0,83.1 154.1,81.7 154.5,83.7 154.7,82.1 155.0,85.5 155.0,85.7 155.4,93.4 155.7,91.7 155.9,89.2 156.0,91.7 156.5,86.5 156.7,87.0 156.8,83.8 157.0,86.0 157.2,80.4 157.6,84.2 157.7,79.4 158.0,83.5 158.5,87.3 158.5,86.6 159.0,89.9 159.0,89.9 159.1,92.0 159.6,89.3 159.7,93.1 160.1,92.5 160.4,90.3 160.6,94.1 161.0,88.7 161.1,91.9 161.5,87.6 161.7,86.6 162.0,80.7 162.0,80.6 162.3,83.8 162.5,82.8 162.9,81.7 163.0,83.8 163.4,89.1 163.6,86.3 163.8,89.7 164.3,88.9 164.5,85.1 164.7,86.5 164.8,83.5 165.1,82.2 165.3,85.4 165.5,83.0 165.9,89.5 166.1,87.5 166.3,92.9 166.6,95.1 167.0,91.6 167.0,91.7 167.5,89.0 167.7,89.5 167.8,87.0 168.0,87.9 168.4,85.0 168.5,86.2 168.7,88.9 169.0,88.2 169.4,92.0 169.6,93.4 169.8,89.1 170.0,90.1 170.5,84.2 170.5,83.4 170.8,79.8 171.3,78.0 171.5,80.9 171.5,81.5 171.9,83.8 172.0,83.8 172.5,90.4 172.7,89.6 172.9,92.8 173.1,91.0 173.2,92.5 173.7,91.9 174.0,88.5 174.3,88.9 174.4,84.7 174.7,84.7 174.9,88.9 175.2,85.7 175.3,83.1 175.6,81.7 175.8,85.1 176.0,82.4 176.3,85.4 176.7,83.8 176.9,88.3 177.0,85.9 177.3,90.4 177.6,90.9 177.8,90.1 178.1,92.4 178.5,88.5 178.7,89.7 178.8,86.4 179.0,89.9 179.3,88.0 179.5,90.2 179.8,92.2 180.0,91.4 180.4,93.7 180.6,89.5 180.8,92.6 181.3,89.3 181.5,84.6 181.5,83.5 182.0,79.0 182.2,80.3 182.4,77.7 182.6,79.1 183.0,83.4 183.2,81.0 183.4,86.2 183.8,84.7 183.9,85.5 184.1,83.9 184.4,85.6 184.9,82.9 185.0,87.2 185.1,88.9 185.3,87.5 185.5,88.5 185.9,96.3 186.1,94.2 186.3,96.9 186.6,99.9 187.0,94.0 187.2,96.1 187.4,89.6 187.5,90.1 188.0,84.1 188.1,85.1 188.3,83.5 188.6,85.1 189.0,83.2 189.0,84.3 189.4,87.5 189.6,85.9 189.7,88.9 190.0,89.5 190.4,85.4 190.6,86.9 190.8,83.4 191.1,81.7 191.3,84.2 191.6,85.1 191.8,82.4 192.1,84.5 192.5,87.3 192.7,87.2 193.0,89.5 193.0,89.3 193.4,92.1 193.5,89.9 194.0,87.6 194.0,87.5 194.2,84.2 194.6,84.1 194.8,86.6 195.3,83.2 195.5,86.9 195.5,87.1 196.0,93.7 196.2,94.4 196.5,90.9 196.8,90.8 197.0,86.9 197.3,86.6 197.5,81.5 197.7,79.5 197.9,84.5 198.1,79.8 198.5,83.8 198.5,84.2 199.0,94.8 199.2,95.1 199.3,99.1 199.6,99.8 200.0,94.4 200.0,93.5 200.5,86.3 200.5,85.7 200.9,80.3 201.3,78.4 201.5,80.9 201.7,81.4 201.9,86.8 202.0,85.3 202.4,90.2 202.6,89.4 202.8,86.6 203.0,89.0 203.5,82.0 203.5,82.0 203.9,77.2 204.0,78.5 204.5,83.2 204.5,83.1 205.0,92.3 205.1,91.7 205.5,96.8 205.5,96.8 205.9,94.9 206.0,95.6 206.5,90.8 206.6,90.6 207.0,86.7 207.1,83.8 207.3,87.6 207.7,87.5 207.9,84.1 208.0,85.4 208.5,82.5 208.7,82.1 209.0,84.4 209.1,82.2 209.5,86.4 209.5,86.9 210.0,91.1 210.0,91.5 210.5,95.7 210.7,96.8 211.0,94.8 211.0,94.3 211.5,85.8 211.5,86.9 212.0,79.7 212.1,79.9 212.3,77.7 212.6,78.7 213.0,87.9 213.2,86.5 213.3,91.3 213.8,91.9 214.0,89.0 214.0,88.9 214.3,84.6 214.5,84.4 214.8,79.4 215.1,77.5 215.3,83.5 215.5,83.6 215.8,89.3 216.0,89.3 216.5,99.5 216.5,99.3 217.0,92.7 217.0,92.5 217.5,86.8 217.5,86.0 217.9,79.7 218.3,78.1 218.5,83.6 218.5,84.2 219.0,92.6 219.0,92.7 219.5,99.1 219.5,99.4 220.0,93.1 220.0,92.7 220.5,83.3 220.5,82.9 221.0,76.6 221.3,71.9 221.5,78.1 221.7,77.7 222.0,82.5 222.0,83.1 222.5,90.6 222.7,90.3 222.9,91.9 223.2,91.8 223.5,87.5 223.6,86.5 223.8,89.4 224.2,85.2 224.4,90.9 224.6,89.3 224.9,94.5 225.0,93.2 225.3,96.4 225.5,95.2 226.0,89.6 226.0,89.0 226.5,83.6 226.5,83.5 227.0,77.5 227.0,76.8 227.1,74.8 227.5,76.7 228.0,80.4 228.0,81.0 228.4,86.1 228.5,84.6 229.0,89.9 229.1,89.2 229.5,90.5 229.8,91.7 230.0,90.5 230.1,91.8 230.3,89.6 230.5,90.1 230.9,88.3 231.0,88.9 231.3,87.3 231.7,86.0 231.8,87.3 232.3,86.6 232.4,87.6 232.5,86.7 232.8,87.7 233.0,87.2 233.3,87.8 233.8,87.8 233.9,87.1 234.3,86.5 234.4,87.9 234.6,86.8 234.9,87.7 235.3,86.9 235.5,87.5 235.7,87.9 235.8,86.9 236.2,87.0 236.5,87.7 236.5,86.9 236.6,87.5 237.3,87.0 237.4,87.6 237.7,87.5 238.0,86.8 238.3,87.7 238.4,86.7 238.5,87.6 238.7,86.3 239.3,86.9 239.4,87.6 239.6,87.7 239.6,86.9 240.2,87.6 240.5,87.0 240.6,87.0 240.8,87.7 241.1,87.1 241.4,87.7 241.7,87.6 242.0,86.9 242.0,87.7 242.3,87.1 242.5,87.0 242.7,87.6 243.1,87.0 243.4,87.7 243.7,87.0 243.8,88.0 244.2,86.7 244.5,87.7 244.7,87.9 245.0,86.9 245.1,86.9 245.5,87.5 245.8,87.7 245.9,87.0 246.1,87.8 246.4,86.8 246.6,87.5 247.0,86.8 247.2,87.0 247.4,87.8 247.7,86.9 247.9,87.7 248.0,86.8 248.5,87.7 248.6,87.6 248.7,86.9 249.0,86.9 249.1,87.7 249.5,87.8 250.0,86.8 250.0,86.6 250.5,87.6 250.7,87.1 250.9,87.6 251.1,86.8 251.4,88.1 251.6,87.9 252.0,86.9 252.4,87.6 252.5,86.6 252.7,88.1 252.9,29.7 253.2,105.9 253.4,86.5 253.8,89.0 254.0,86.9 254.2,90.8 254.5,82.7 254.7,94.1 254.9,82.3 255.2,67.8 255.2,89.8 255.5,88.1 255.7,85.2 256.2,83.9 256.4,87.2 256.7,88.6 257.0,86.5 257.0,86.7 257.3,88.3 257.5,87.7 257.9,87.0 258.1,86.8 258.2,87.8 258.6,87.9 258.7,86.7 259.2,87.6 259.3,87.0 259.6,87.8 259.7,86.9 260.1,87.8 260.2,86.8 260.7,86.9 261.0,87.6 261.1,87.7 261.2,86.9 261.9,87.6 262.0,86.9 262.2,86.5 262.5,87.5 262.5,87.8 262.8,86.9 263.0,87.8 263.5,87.0 263.5,86.8 263.6,87.9 264.2,86.8 264.3,87.6 264.6,88.3 264.9,86.6 265.4,86.9 265.5,87.5 265.7,86.8 265.9,87.6 266.1,87.0 266.2,87.8 266.8,88.0 266.9,86.6 267.0,86.7 267.2,87.7 267.6,86.9 267.7,87.7 268.3,87.7 268.4,86.9 268.7,86.7 268.8,87.8 269.4,86.9 269.4,87.7 269.7,87.8 269.9,86.9 270.3,87.8 270.4,86.7 270.7,87.6 270.8,86.7 271.2,86.9 271.5,87.7 271.5,87.4 271.8,87.0 272.0,87.8 272.5,87.0 272.5,86.7 272.6,87.9 273.1,87.7 273.1,87.0 273.6,87.7 273.9,87.0 274.1,87.7 274.4,86.7 274.6,87.8 275.0,86.8 275.0,87.0 275.5,87.7 275.7,86.8 276.0,87.6 276.0,86.9 276.1,87.7 276.8,87.6 276.9,86.8 277.1,86.8 277.3,87.8 277.5,86.9 277.9,87.8 278.2,87.6 278.3,87.1 278.6,87.5 278.8,86.9 279.1,87.6 279.2,87.0 279.6,87.7 279.7,86.8 280.3,87.8 280.4,87.0 280.6,88.1 280.6,86.9 281.3,86.8 281.5,87.6 281.6,87.7 282.0,86.5 282.1,87.0 282.4,87.8 282.7,87.0 282.9,87.8 283.1,86.7 283.3,87.8 283.6,87.6 283.8,87.0 284.4,87.8 284.4,86.8 284.8,87.5 285.0,87.1 285.3,86.8 285.4,87.6 285.6,86.8 285.8,87.5 286.1,87.0 286.2,87.7 286.6,86.9 286.9,87.7 287.1,86.9 287.2,87.6 287.9,86.9 288.0,87.9 288.1,87.0 288.2,87.7 288.5,87.7 288.7,86.8 289.1,87.1 289.2,87.6 289.6,87.5 289.9,87.0 290.1,87.0 290.3,87.6 290.5,86.5 290.6,87.8 291.3,87.0 291.5,87.5 291.7,86.8 291.8,87.7 292.1,87.0 292.1,87.6 292.5,86.9 293.0,87.6 293.1,86.9 293.4,87.7 293.6,87.7 293.8,87.1 294.0,86.9 294.5,88.0 294.6,87.1 294.9,87.7 295.2,86.9 295.3,87.6 295.6,87.7 295.7,87.1 296.3,87.8 296.5,86.9 296.7,87.0 296.8,90.3 297.0,87.0 297.2,87.5 297.6,86.6 298.0,87.6 298.0,87.9 298.3,87.2 298.6,88.0 298.7,86.6 299.0,86.9 299.4,87.4 299.6,87.1 299.8,87.8 300.0,87.7 300.3,87.0 300.6,87.5 300.9,86.9 301.2,87.0 301.3,87.8 301.7,87.2 301.9,87.6 302.1,86.8 302.4,87.5 302.6,87.5 302.8,86.9 303.2,87.6 303.2,86.6 303.6,87.0 303.7,87.8 304.0,87.7 304.3,86.8 304.6,87.7 304.9,86.9 305.4,86.8 305.5,87.7 305.5,86.8 305.7,87.7 306.2,86.9 306.4,87.7 306.6,87.0 306.8,87.5 307.2,87.6 307.3,86.7 307.5,87.0 307.7,87.5 308.2,87.6 308.4,87.0 308.7,87.1 308.8,87.6 309.1,87.5 309.4,86.9 309.8,86.9 310.0,87.8 310.0,87.8 310.4,87.0 310.5,86.8 310.8,87.8 311.2,87.0 311.4,87.5 311.8,86.5 311.9,87.8 312.0,86.9 312.2,87.8 312.6,87.4 312.8,87.0 313.2,87.6 313.3,86.7 313.6,87.0 313.7,87.7 314.2,87.6 314.3,86.7 314.8,87.0 314.9,87.7 315.1,87.6 315.2,86.9 315.6,87.7 315.7,86.6 316.1,86.8 316.4,87.7 316.5,87.0 316.6,87.7 317.1,87.7 317.2,86.9 317.6,86.9 317.8,87.7 318.2,87.0 318.4,87.6 318.7,86.6 318.7,87.7 319.1,87.0 319.2,87.7 319.7,87.9 320.0,86.8 320.0,86.9 320.5,87.6 320.5,86.9 320.9,87.7 321.1,87.9 321.2,86.8 321.7,86.8 321.9,87.5 322.4,87.1 322.4,109.5 322.6,87.6 322.9,87.0 323.4,87.6 323.4,87.0 323.9,87.8 324.0,86.7 324.4,86.8 324.5,87.8 324.6,87.6 324.8,86.8 325.0,87.6 325.3,86.7 325.7,87.8 326.0,87.0 326.3,81.9 326.4,87.6 326.6,87.0 326.7,87.8 327.2,87.7 327.3,86.8 327.6,87.0 327.9,87.6 328.2,86.9 328.5,87.8 328.5,87.6 328.9,86.8 329.2,87.8 329.3,86.7 329.6,87.1 329.8,87.5 330.2,86.8 330.4,87.6 330.8,87.0 330.9,87.8 331.0,87.9 331.4,87.0 331.7,87.8 332.0,86.7 332.1,87.9 332.5,87.1 332.7,87.6 332.7,87.0 333.1,87.0 333.4,87.8 333.6,86.8 333.7,87.6 334.1,87.5 334.5,86.9 334.5,86.9 334.8,87.6 335.3,86.8 335.4,87.5 335.6,87.0 335.9,87.6 336.3,86.9 336.5,87.7 336.6,87.7 336.9,87.2 337.2,87.2 337.3,87.5 337.5,87.8 337.8,86.7 338.0,87.7 338.2,86.9 338.7,86.9 339.0,87.6 339.2,87.7 339.2,86.9 339.6,87.0 339.8,87.8 340.1,87.9 340.1,87.1 340.7,86.8 340.8,87.7 341.1,86.8 341.2,87.6 341.6,86.9 341.8,87.5 342.4,86.8 342.5,87.7 342.7,87.6 342.9,86.9 343.1,87.8 343.2,86.9 343.5,86.8 343.7,87.7 344.3,86.8 344.4,87.6 344.5,87.0 344.7,87.5 345.2,86.7 345.3,87.7 345.5,87.6 345.7,86.8 346.1,87.8 346.2,86.8 346.5,87.9 346.9,86.9 347.1,87.8 347.4,87.1 347.9,87.8 347.9,87.1 348.1,87.7 348.3,86.5 348.8,87.0 348.9,87.7 349.1,87.7 349.4,86.8 349.6,87.6 349.8,86.9 350.0,87.9 350.2,87.0 350.7,87.7 350.7,87.0 351.2,86.8 351.4,87.6 351.5,87.5 351.7,87.0 352.3,87.7 352.4,86.8 352.8,86.9 352.9,87.9 353.1,87.5 353.2,86.7 353.8,87.6 353.9,86.9 354.1,87.5 354.3,86.9 354.7,87.7 354.8,87.1 355.4,87.8 355.5,87.0 355.6,87.5 355.9,87.1 356.2,87.8 356.3,86.6 356.6,87.8 356.8,86.8 357.1,87.5 357.3,86.9 357.6,87.7 357.9,87.0 358.0,87.6 358.5,87.1 358.6,86.9 358.8,87.6 359.1,87.0 359.1,87.8 359.7,87.6 359.9,87.2 360.1,87.6 360.5,87.2 360.5,87.6 360.6,87.2 361.4,87.6 361.5,87.0 361.8,87.0 362.0,87.6 362.2,87.7 362.4,86.8 362.7,86.8 362.8,88.0 363.2,87.6 363.4,86.6 363.5,87.7 363.9,86.9 364.2,87.5 364.5,86.8 364.6,87.9 364.8,86.9 365.2,87.7 365.5,86.8 365.6,86.9 365.8,87.7 366.2,87.2 366.5,87.8 366.6,88.0 367.0,87.1 367.3,86.8 367.5,87.8 367.8,87.5 367.9,86.8 368.2,86.9 368.4,87.6 368.5,87.1 368.6,87.6 369.2,87.7 369.5,86.8 369.6,87.5 369.7,86.9 370.2,87.1 370.3,87.7 370.7,86.9 370.9,87.7 371.0,87.9 371.1,87.0 371.6,87.0 372.0,87.7 372.4,87.1 372.5,87.7 372.8,87.5 372.9,86.8 373.4,86.7 373.5,87.8 373.5,87.5 374.0,86.8 374.3,87.5 374.4,87.0 374.8,87.8 375.0,86.9 375.1,87.6 375.3,86.6 375.9,86.9 375.9,87.8 376.1,87.7 376.5,87.1 376.7,86.9 376.9,87.7 377.0,87.7 377.2,87.0 377.6,86.8 377.7,87.8 378.3,87.8 378.4,86.9 378.8,87.6 378.9,86.8 379.0,87.0 379.4,88.1 379.7,87.0 380.0,87.6 380.3,87.0 380.5,87.6 380.5,86.9 380.7,87.6 381.0,88.0 381.2,87.1 381.6,87.7 381.6,86.8 382.0,87.8 382.2,86.6 382.5,87.6 382.7,86.8 383.0,86.9 383.5,87.8 383.8,86.9 383.8,87.7 384.1,86.6 384.4,87.5 384.6,86.8 384.9,87.6 385.1,86.6 385.4,87.9 385.5,87.9 385.7,86.9 386.2,86.9 386.3,87.7 386.6,87.7 386.7,86.9 387.2,86.9 387.5,87.8 387.6,87.7 387.7,87.1 388.3,86.9 388.4,87.7 388.8,87.9 388.9,86.8 389.4,86.8 389.5,87.5 389.5,87.0 389.6,87.5 390.3,86.8 390.4,87.7 390.9,87.0 391.0,87.8 391.3,86.8 391.4,87.7 391.6,87.8 392.0,87.1 392.2,87.7 392.2,87.0 392.8,86.7 392.9,87.8 393.1,86.8 393.4,87.7 393.6,87.7 393.9,86.7 394.3,86.7 394.5,87.6 394.6,88.0 395.0,86.8 395.0,86.6 395.1,87.6 395.5,87.5 395.9,86.9 396.2,88.0 396.4,86.9 396.6,87.1 396.8,87.7 397.1,86.8 397.5,87.6 397.8,86.9 397.9,87.7 398.1,86.6 398.2,87.7 398.6,87.0 399.0,87.6 399.0,87.0 399.3,87.7 399.6,86.8 399.7,87.9 400.3,87.9 400.4,86.8 400.7,86.9 400.9,87.6 401.3,86.9 401.4,87.6 401.6,87.0 401.9,87.8 402.3,87.7 402.5,88.6 402.7,88.9 403.0,87.7 403.1,88.4 403.3,87.6 403.6,88.5 403.9,87.4 404.0,87.9 404.4,37.5 404.7,120.3 404.9,85.1 405.2,85.6 405.3,86.6 405.5,86.2 406.0,87.8 406.2,86.7 406.4,91.5 406.7,89.5 406.9,88.1 407.1,88.8 407.2,86.7 407.6,87.8 407.8,83.6 408.0,85.2 408.1,84.2 408.8,82.1 409.0,85.8 409.1,84.6 409.5,87.9 409.5,88.2 409.8,86.2 410.1,85.8 410.5,87.8 410.7,84.9 411.0,88.9 411.1,87.2 411.5,89.5 411.8,89.7 411.9,87.1 412.2,91.0 412.3,35.1 412.6,99.3 412.9,84.4 413.3,83.3 413.5,86.4 413.8,83.0 414.0,87.7 414.0,87.9 414.5,92.7 414.6,92.5 414.8,95.1 415.0,93.6 415.2,89.2 415.6,91.3 416.0,86.1 416.0,85.4 416.2,82.6 416.6,81.5 416.8,84.9 417.0,85.0 417.5,91.3 417.6,89.9 417.9,94.8 418.3,94.1 418.5,89.7 418.5,89.3 419.0,86.2 419.0,85.8 419.5,79.3 419.7,81.1 419.9,77.5 420.2,79.6 420.5,81.9 420.7,81.6 420.9,86.5 421.3,83.1 421.5,87.0 421.6,83.6 422.0,88.4 422.1,87.0 422.3,91.2 422.7,91.2 422.9,93.4 423.0,93.9 423.4,95.9 423.5,95.3 423.8,91.1 424.0,90.8 424.4,87.0 424.8,86.7 425.0,82.5 425.0,83.0 425.2,86.1 425.5,86.6 425.8,90.5 426.0,89.9 426.5,93.6 426.5,93.0 426.9,86.2 427.0,88.3 427.5,81.0 427.7,82.8 427.9,75.8 428.0,79.0 428.2,81.3 428.5,81.1 429.0,87.1 429.1,89.6 429.5,86.1 429.5,86.4 430.0,91.2 430.2,89.0 430.3,91.8 430.5,90.3 430.7,92.8 431.3,91.8 431.4,94.3 431.5,94.4 432.0,90.4 432.0,89.5 432.5,86.1 432.5,85.8 432.9,79.8 433.2,78.9 433.4,83.7 433.6,81.0 433.9,85.3 434.0,85.0 434.5,90.1 434.5,90.0 435.0,86.4 435.0,87.1 435.5,83.5 435.7,84.4 435.9,80.6 436.2,81.6 436.5,86.6 436.5,86.4 437.0,94.0 437.0,94.3 437.5,99.3 437.5,99.2 438.0,94.3 438.0,93.3 438.5,84.3 438.7,84.2 439.0,78.8 439.0,78.8 439.4,81.8 439.6,78.8 439.8,86.0 440.0,86.3 440.5,92.9 440.6,95.9 440.9,93.1 441.0,93.4 441.5,86.4 441.7,86.8 441.9,83.1 442.0,86.0 442.5,82.8 442.5,82.3 442.9,86.4 443.1,85.6 443.3,88.1 443.5,86.6 443.8,88.4 444.0,87.0 444.3,83.9 444.5,84.4 444.7,82.7 445.0,82.1 445.5,86.0 445.7,83.7 446.0,87.3 446.1,87.5 446.3,86.3 446.6,85.9 447.0,88.1 447.0,88.4 447.5,92.1 447.5,92.0 447.9,97.6 448.1,96.8 448.5,99.3 448.5,98.7 449.0,94.3 449.1,94.6 449.5,85.1 449.5,84.2 450.0,77.6 450.0,77.0 450.4,73.7 450.5,75.6 451.0,80.3 451.0,81.1 451.5,90.5 451.5,91.1 452.0,94.2 452.0,95.4 452.3,90.6 452.5,92.1 452.9,86.1 453.0,86.6 453.4,82.0 453.6,85.1 454.0,81.6 454.0,80.9 454.5,87.1 454.8,88.2 454.9,85.2 455.1,89.2 455.2,85.7 455.8,84.9 456.0,89.5 456.0,88.3 456.4,83.0 456.6,88.0 456.7,85.7 457.2,88.2 457.4,86.2 457.8,87.9 458.0,91.4 458.1,90.0 458.5,92.1 458.8,92.3 459.0,90.0 459.0,91.6 459.2,95.1 459.5,93.2 459.7,88.5 460.0,90.8 460.5,86.5 460.7,87.0 460.8,85.4 461.2,87.3 461.4,85.7 461.6,89.3 462.0,85.2 462.2,86.8 462.4,84.1 462.5,84.3 463.0,78.1 463.1,81.1 463.3,75.6 463.6,76.0 463.9,78.9 464.0,76.7 464.5,86.7 464.5,86.7 465.0,93.8 465.0,94.7 465.4,98.6 465.7,99.9 465.9,93.5 466.0,95.7 466.5,88.4 466.5,87.7 466.9,83.9 467.2,83.2 467.5,86.8 467.8,86.8 468.0,91.2 468.2,88.7 468.4,93.8 468.6,92.9 469.0,89.9 469.0,89.9 469.3,86.3 469.5,86.1 469.8,83.1 470.0,84.7 470.5,86.1 470.5,87.1 470.8,90.1 471.3,88.9 471.4,91.7 471.5,89.2 471.9,85.3 472.0,85.2 472.3,78.0 472.8,77.3 473.0,79.7 473.1,76.6 473.5,84.4 473.5,85.6 473.9,91.9 474.0,90.0 474.5,97.3 474.5,96.1 474.9,92.1 475.1,92.6 475.5,88.0 475.7,88.0 476.0,86.6 476.0,86.5 476.4,88.7 476.7,89.6 476.8,87.3 477.3,89.7 477.5,87.1 477.5,87.1 477.9,82.8 478.0,82.9 478.5,78.6 478.5,77.8 478.7,82.4 479.1,80.6 479.5,86.5 479.7,86.6 479.9,91.7 480.0,89.8 480.4,94.3 480.5,92.9 481.0,96.0 481.2,96.0 481.4,91.2 481.6,93.2 482.0,89.3 482.2,89.5 482.5,86.3 482.6,87.4 482.8,85.2 483.0,85.1 483.1,83.3 483.5,83.7 483.9,80.8 484.0,82.1 484.5,84.8 484.5,85.5 484.6,87.2 485.0,86.5 485.4,82.9 485.7,84.6 486.0,80.7 486.0,80.6 486.2,84.8 486.5,82.9 487.0,86.6 487.1,86.5 487.5,95.7 487.6,95.8 487.9,99.5 488.0,97.0 488.1,99.3 488.5,98.1 489.0,90.4 489.0,90.5 489.4,81.7 489.5,83.9 489.9,80.5 490.1,80.0 490.5,83.2 490.6,85.8 491.0,83.3 491.0,84.3 491.5,92.3 491.5,91.9 491.7,88.0 492.0,91.3 492.4,86.7 492.6,91.4 492.8,87.7 493.1,87.6 493.5,90.1 493.5,90.4 494.0,85.2 494.0,83.7 494.2,86.3 494.8,83.1 495.0,85.8 495.2,83.7 495.4,86.6 495.8,84.1 496.0,89.3 496.2,89.4 496.4,86.6 496.6,89.2 496.8,86.6 497.0,88.1 497.5,83.6 497.6,83.2 497.9,86.1 498.0,83.8 498.3,89.2 498.5,89.2 498.8,94.2 499.1,94.3 499.3,91.9 499.7,94.0 500.0,88.3 500.1,83.9 500.3,87.2 500.8,82.9 501.0,87.4 501.0,87.1 501.5,90.4 501.7,89.5 501.9,91.2 502.0,90.2 502.3,86.9 502.5,86.7 503.0,77.7 503.1,76.3 503.2,77.7 503.5,76.1 504.0,81.8 504.0,82.6 504.5,94.0 504.7,94.5 504.9,102.3 505.2,101.5 505.5,97.9 505.5,97.5 506.0,88.0 506.0,87.5 506.5,80.3 506.5,80.5 506.7,76.5 507.0,78.0 507.5,81.4 507.5,82.2 507.9,90.4 508.1,86.7 508.5,94.0 508.5,93.9 508.7,90.3 509.1,93.2 509.3,92.1 509.6,93.8 510.0,90.8 510.3,93.1 510.5,87.6 510.6,88.0 510.8,83.5 511.0,82.6 511.5,76.4 511.9,75.4 512.0,79.3 512.1,77.2 512.3,83.1 512.5,81.5 513.0,93.1 513.0,92.9 513.4,98.5 513.6,94.5 513.7,96.9 514.0,95.1 514.5,90.3 514.5,90.0 514.7,84.5 515.2,87.5 515.4,85.7 515.5,88.0 515.9,92.5 516.3,88.9 516.5,91.2 516.5,90.8 517.0,87.0 517.0,86.2 517.5,81.1 517.6,79.4 518.0,82.3 518.0,82.6 518.2,80.5 518.5,82.1 519.0,87.0 519.3,89.4 519.5,85.6 519.8,87.2 520.0,83.7 520.0,83.7 520.4,86.3 520.5,85.3 521.0,89.8 521.1,88.8 521.5,93.8 521.6,95.1 521.7,91.2 522.3,95.0 522.5,92.4 522.6,93.0 522.8,88.4 523.0,89.5 523.4,85.8 523.5,86.4 523.7,88.8 524.2,83.5 524.4,89.4 524.7,87.2 525.0,84.2 525.0,83.8 525.5,81.1 525.7,82.4 525.9,80.1 526.2,80.9 526.4,83.0 526.5,82.2 527.0,88.4 527.1,86.8 527.4,90.9 527.8,91.6 528.0,88.5 528.4,87.9 528.4,90.1 528.8,89.2 529.0,86.0 529.0,86.4 529.5,91.8 529.8,90.2 530.0,93.4 530.2,90.3 530.4,94.4 530.5,91.3 531.0,88.1 531.2,88.9 531.4,86.1 531.5,86.4 531.9,80.3 532.2,82.1 532.4,84.5 532.8,81.7 533.0,85.3 533.1,83.7 533.2,86.5 533.5,86.6 534.0,87.7 534.0,88.1 534.4,84.5 534.6,88.7 535.0,84.8 535.0,84.7 535.4,89.0 535.5,88.0 535.7,91.1 536.2,89.4 536.5,91.5 536.6,91.6 536.8,93.9 537.1,93.6 537.5,90.8 537.5,90.6 538.0,86.7 538.0,86.3 538.2,42.3 538.5,82.4 539.0,78.6 539.0,78.5 539.3,83.7 539.6,82.0 539.9,89.0 540.0,87.4 540.2,91.3 540.7,93.5 540.9,87.8 541.0,91.2 541.5,86.4 541.6,87.0 542.0,83.8 542.0,83.7 542.5,87.6 542.5,87.8 543.0,91.2 543.3,93.2 543.5,50.7 543.7,92.5 544.0,89.3 544.0,89.1 544.5,83.7 544.5,84.2 544.7,81.4 545.0,81.7 545.4,83.7 545.5,83.5 546.0,87.2 546.1,86.7 546.5,89.2 546.6,89.0 546.8,89.3 547.0,89.2 547.5,88.0 547.6,88.2 547.7,87.2 548.0,87.6 548.1,86.7 548.6,87.3 548.9,86.6 549.1,87.6 549.1,86.8 549.6,86.8 550.0,88.0 550.0,88.0 550.3,86.9 550.6,87.6 550.9,86.7 551.3,87.6 551.5,87.0 551.5,86.9 551.6,88.0 552.1,87.0 552.5,87.9 552.7,50.7 553.0,102.3 553.1,87.0 553.2,87.5 553.6,87.9 553.9,86.6 554.2,87.7 554.4,87.1 554.8,86.8 554.9,87.7 555.1,86.9 555.3,87.7 555.7,87.8 556.0,87.1 556.1,87.6 556.4,86.9 556.5,87.5 556.7,87.1 557.3,87.8 557.4,86.5 557.7,87.0 557.8,87.8 558.2,87.8 558.2,87.0 558.6,87.6 559.0,86.9 559.2,87.6 559.2,86.5 559.8,87.0 559.8,87.6 560.3,87.5 560.4,86.7 560.5,68.7 561.0,87.9 561.2,87.8 561.3,86.5 561.7,86.7 561.8,87.7 562.2,87.1 562.3,87.7" fill="none" stroke="#000" stroke-width="2.6" stroke-linejoin="round"/></g>
<rect x="70.5" y="25.3" width="492.0" height="100.1" fill="none" stroke="#000" stroke-width="1.1"/>
<rect x="70.5" y="150.5" width="492.0" height="300.8" fill="none" stroke="#000" stroke-width="1.1"/>
<path d="M70.50 125.40v5.2M70.50 451.30v5.2M136.10 125.40v5.2M136.10 451.30v5.2M201.70 125.40v5.2M201.70 451.30v5.2M267.30 125.40v5.2M267.30 451.30v5.2M332.90 125.40v5.2M332.90 451.30v5.2M398.50 125.40v5.2M398.50 451.30v5.2M464.10 125.40v5.2M464.10 451.30v5.2M529.70 125.40v5.2M529.70 451.30v5.2M70.50 87.30h-4.9M70.50 27.30h-4.9M70.50 451.30h-4.9M70.50 358.40h-4.9M70.50 265.50h-4.9M70.50 172.60h-4.9" stroke="#000" stroke-width="1.1" fill="none"/>
<path d="M70.50 423.33h-2.8M70.50 406.98h-2.8M70.50 395.37h-2.8M70.50 386.37h-2.8M70.50 379.01h-2.8M70.50 372.79h-2.8M70.50 367.40h-2.8M70.50 362.65h-2.8M70.50 330.43h-2.8M70.50 314.08h-2.8M70.50 302.47h-2.8M70.50 293.47h-2.8M70.50 286.11h-2.8M70.50 279.89h-2.8M70.50 274.50h-2.8M70.50 269.75h-2.8M70.50 237.53h-2.8M70.50 221.18h-2.8M70.50 209.57h-2.8M70.50 200.57h-2.8M70.50 193.21h-2.8M70.50 186.99h-2.8M70.50 181.60h-2.8M70.50 176.85h-2.8" stroke="#000" stroke-width="0.85" fill="none"/>
<text x="350.50" y="21.50" font-size="16.20" text-anchor="middle" textLength="260" lengthAdjust="spacingAndGlyphs">Wavelet Transform 2019-04-14</text>
<text x="71.50" y="145.60" font-size="14.00" text-anchor="middle" textLength="8" lengthAdjust="spacingAndGlyphs">0</text>
<text x="71.50" y="471.90" font-size="14.00" text-anchor="middle" textLength="8" lengthAdjust="spacingAndGlyphs">0</text>
<text x="135.40" y="145.60" font-size="14.00" text-anchor="middle" textLength="16.4" lengthAdjust="spacingAndGlyphs">10</text>
<text x="135.40" y="471.90" font-size="14.00" text-anchor="middle" textLength="16.4" lengthAdjust="spacingAndGlyphs">10</text>
<text x="201.00" y="145.60" font-size="14.00" text-anchor="middle" textLength="16.4" lengthAdjust="spacingAndGlyphs">20</text>
<text x="201.00" y="471.90" font-size="14.00" text-anchor="middle" textLength="16.4" lengthAdjust="spacingAndGlyphs">20</text>
<text x="266.60" y="145.60" font-size="14.00" text-anchor="middle" textLength="16.4" lengthAdjust="spacingAndGlyphs">30</text>
<text x="266.60" y="471.90" font-size="14.00" text-anchor="middle" textLength="16.4" lengthAdjust="spacingAndGlyphs">30</text>
<text x="332.20" y="145.60" font-size="14.00" text-anchor="middle" textLength="16.4" lengthAdjust="spacingAndGlyphs">40</text>
<text x="332.20" y="471.90" font-size="14.00" text-anchor="middle" textLength="16.4" lengthAdjust="spacingAndGlyphs">40</text>
<text x="397.80" y="145.60" font-size="14.00" text-anchor="middle" textLength="16.4" lengthAdjust="spacingAndGlyphs">50</text>
<text x="397.80" y="471.90" font-size="14.00" text-anchor="middle" textLength="16.4" lengthAdjust="spacingAndGlyphs">50</text>
<text x="463.40" y="145.60" font-size="14.00" text-anchor="middle" textLength="16.4" lengthAdjust="spacingAndGlyphs">60</text>
<text x="463.40" y="471.90" font-size="14.00" text-anchor="middle" textLength="16.4" lengthAdjust="spacingAndGlyphs">60</text>
<text x="529.00" y="145.60" font-size="14.00" text-anchor="middle" textLength="16.4" lengthAdjust="spacingAndGlyphs">70</text>
<text x="529.00" y="471.90" font-size="14.00" text-anchor="middle" textLength="16.4" lengthAdjust="spacingAndGlyphs">70</text>
<text x="59.60" y="32.00" font-size="14.00" text-anchor="end" textLength="25.6" lengthAdjust="spacingAndGlyphs">200</text>
<text x="61.40" y="92.70" font-size="14.00" text-anchor="end" textLength="8" lengthAdjust="spacingAndGlyphs">0</text>
<text x="44.60" y="457.80" font-size="14.00" text-anchor="end" textLength="15.6" lengthAdjust="spacingAndGlyphs">10</text>
<text x="45.60" y="453.10" font-size="10.60" text-anchor="start" textLength="13" lengthAdjust="spacingAndGlyphs">−2</text>
<text x="44.60" y="364.90" font-size="14.00" text-anchor="end" textLength="15.6" lengthAdjust="spacingAndGlyphs">10</text>
<text x="45.60" y="360.20" font-size="10.60" text-anchor="start" textLength="13" lengthAdjust="spacingAndGlyphs">−1</text>
<text x="52.40" y="272.00" font-size="14.00" text-anchor="end" textLength="15.6" lengthAdjust="spacingAndGlyphs">10</text>
<text x="53.40" y="267.10" font-size="10.60" text-anchor="start">0</text>
<text x="52.40" y="179.10" font-size="14.00" text-anchor="end" textLength="15.6" lengthAdjust="spacingAndGlyphs">10</text>
<text x="53.40" y="174.20" font-size="10.60" text-anchor="start">1</text>
<text x="316.00" y="491.00" font-size="13.40" text-anchor="middle" textLength="80" lengthAdjust="spacingAndGlyphs" xml:space="preserve">Time  [min]</text>
<text transform="translate(25.0,75.9) rotate(-90)" font-size="14" text-anchor="middle" textLength="47" lengthAdjust="spacingAndGlyphs">ΔP - Pa</text>
<text transform="translate(18.3,302.2) rotate(-90)" font-size="13.6" text-anchor="middle" textLength="105.6" lengthAdjust="spacingAndGlyphs">Frequency [Hz]</text>
</svg></body></html>
